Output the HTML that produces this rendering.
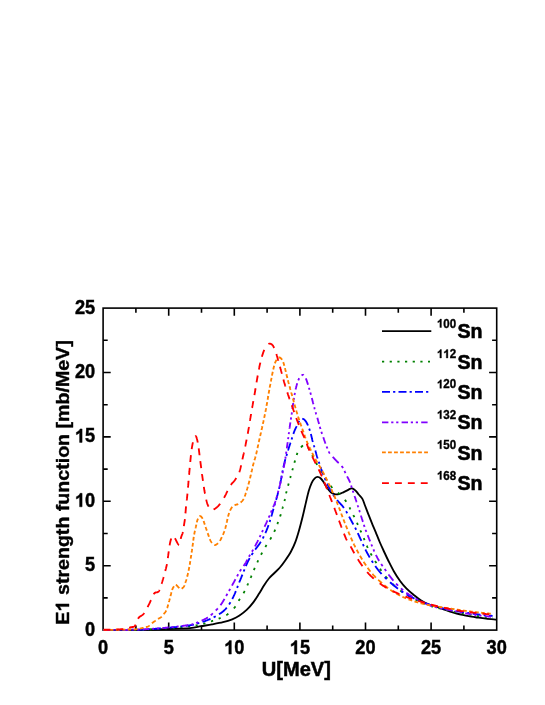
<!DOCTYPE html><html><head><meta charset="utf-8"><style>html,body{margin:0;padding:0;background:#fff}svg{display:block;will-change:transform}text{font-family:"Liberation Sans",sans-serif;font-weight:bold;fill:#000}</style></head><body>
<svg width="545" height="705" viewBox="0 0 545 705">
<rect width="545" height="705" fill="#fff"/>
<g stroke="#000" stroke-width="1.6" fill="none" stroke-linecap="butt">
<rect x="103.10" y="308.10" width="393.60" height="322.00"/>
<path d="M135.90 630.10 v-4.60 M135.90 308.10 v4.60 M168.70 630.10 v-7.60 M168.70 308.10 v7.60 M201.50 630.10 v-4.60 M201.50 308.10 v4.60 M234.30 630.10 v-7.60 M234.30 308.10 v7.60 M267.10 630.10 v-4.60 M267.10 308.10 v4.60 M299.90 630.10 v-7.60 M299.90 308.10 v7.60 M332.70 630.10 v-4.60 M332.70 308.10 v4.60 M365.50 630.10 v-7.60 M365.50 308.10 v7.60 M398.30 630.10 v-4.60 M398.30 308.10 v4.60 M431.10 630.10 v-7.60 M431.10 308.10 v7.60 M463.90 630.10 v-4.60 M463.90 308.10 v4.60 M103.10 597.90 h4.60 M496.70 597.90 h-4.60 M103.10 565.70 h7.60 M496.70 565.70 h-7.60 M103.10 533.50 h4.60 M496.70 533.50 h-4.60 M103.10 501.30 h7.60 M496.70 501.30 h-7.60 M103.10 469.10 h4.60 M496.70 469.10 h-4.60 M103.10 436.90 h7.60 M496.70 436.90 h-7.60 M103.10 404.70 h4.60 M496.70 404.70 h-4.60 M103.10 372.50 h7.60 M496.70 372.50 h-7.60 M103.10 340.30 h4.60 M496.70 340.30 h-4.60"/>
</g>
<g fill="none" stroke-width="1.85" stroke-linejoin="round">
<path d="M103.50 630.00 C109.58 629.97 129.27 629.97 140.00 629.80 C150.73 629.63 159.57 629.28 167.90 629.00 C176.23 628.72 184.48 628.57 190.00 628.10 C195.52 627.63 197.33 626.82 201.00 626.20 C204.67 625.58 208.33 625.07 212.00 624.40 C215.67 623.73 219.63 623.05 223.00 622.20 C226.37 621.35 229.45 620.40 232.20 619.30 C234.95 618.20 237.05 617.20 239.50 615.60 C241.95 614.00 244.60 611.90 246.90 609.70 C249.20 607.50 251.32 605.00 253.30 602.40 C255.28 599.80 256.97 597.00 258.80 594.10 C260.63 591.20 262.62 587.60 264.30 585.00 C265.98 582.40 267.22 580.50 268.90 578.50 C270.58 576.50 272.57 574.83 274.40 573.00 C276.23 571.17 278.07 569.63 279.90 567.50 C281.73 565.37 283.55 562.87 285.40 560.20 C287.25 557.53 289.35 554.50 291.00 551.50 C292.65 548.50 293.97 545.70 295.30 542.20 C296.63 538.70 297.75 534.87 299.00 530.50 C300.25 526.13 301.65 520.65 302.80 516.00 C303.95 511.35 304.90 506.80 305.90 502.60 C306.90 498.40 307.83 494.10 308.80 490.80 C309.77 487.50 310.72 484.88 311.70 482.80 C312.68 480.72 313.72 479.28 314.70 478.30 C315.68 477.32 316.62 476.90 317.60 476.90 C318.58 476.90 319.62 477.45 320.60 478.30 C321.58 479.15 322.40 480.40 323.50 482.00 C324.60 483.60 325.98 486.18 327.20 487.90 C328.42 489.62 329.58 491.27 330.80 492.30 C332.02 493.33 333.15 493.80 334.50 494.10 C335.85 494.40 337.43 494.40 338.90 494.10 C340.37 493.80 341.83 492.97 343.30 492.30 C344.77 491.63 346.48 490.72 347.70 490.10 C348.92 489.48 349.75 488.85 350.60 488.60 C351.45 488.35 351.93 488.23 352.80 488.60 C353.67 488.97 354.82 489.82 355.80 490.80 C356.78 491.78 357.60 493.15 358.70 494.50 C359.80 495.85 361.35 497.07 362.40 498.90 C363.45 500.73 364.00 502.93 365.00 505.50 C366.00 508.07 367.25 511.37 368.40 514.30 C369.55 517.23 370.70 520.17 371.90 523.10 C373.10 526.03 374.30 528.75 375.60 531.90 C376.90 535.05 378.30 538.73 379.70 542.00 C381.10 545.27 382.53 548.33 384.00 551.50 C385.47 554.67 386.87 557.72 388.50 561.00 C390.13 564.28 391.87 567.87 393.80 571.20 C395.73 574.53 397.97 578.08 400.10 581.00 C402.23 583.92 404.30 586.35 406.60 588.70 C408.90 591.05 411.47 593.12 413.90 595.10 C416.33 597.08 418.75 599.07 421.20 600.60 C423.65 602.13 425.87 603.20 428.60 604.30 C431.33 605.40 435.12 606.35 437.60 607.20 C440.08 608.05 441.53 608.72 443.50 609.40 C445.47 610.08 447.20 610.62 449.40 611.30 C451.60 611.98 454.27 612.85 456.70 613.50 C459.13 614.15 461.55 614.67 464.00 615.20 C466.45 615.73 468.95 616.28 471.40 616.70 C473.85 617.12 476.25 617.38 478.70 617.70 C481.15 618.02 483.17 618.28 486.10 618.60 C489.03 618.92 494.60 619.43 496.30 619.60" stroke="#000000"/>
<path d="M103.50 630.00 L103.70 630.00 L103.92 630.00 L104.14 630.00 L104.38 629.99 L104.62 629.99 L104.87 629.99 L105.13 629.99 L105.40 629.99 L105.68 629.99 M111.20 629.97 L111.59 629.97 L111.99 629.97 L112.39 629.97 L112.80 629.97 L113.21 629.97 L113.32 629.97 M118.91 629.95 L119.37 629.95 L119.83 629.94 L120.30 629.94 L120.76 629.94 L120.99 629.94 M126.61 629.90 L127.08 629.90 L127.55 629.90 L128.01 629.89 L128.47 629.89 L128.71 629.89 M134.19 629.82 L134.62 629.81 L135.04 629.81 L135.46 629.80 L135.87 629.79 L136.28 629.78 M141.94 629.64 L142.39 629.63 L142.84 629.61 L143.29 629.60 L143.73 629.58 L143.95 629.57 M149.53 629.34 L149.94 629.32 L150.36 629.30 L150.77 629.28 L151.18 629.26 L151.59 629.23 L151.69 629.23 M157.24 628.91 L157.63 628.89 L158.01 628.87 L158.40 628.84 L158.78 628.82 L159.16 628.79 L159.35 628.78 M164.92 628.41 L165.28 628.38 L165.65 628.36 L166.01 628.33 L166.37 628.31 L166.73 628.28 L167.00 628.26 M172.62 627.85 L173.07 627.81 L173.51 627.78 L173.96 627.74 L174.40 627.71 L174.73 627.68 M180.26 627.20 L180.67 627.16 L181.08 627.12 L181.48 627.08 L181.88 627.04 L182.28 627.01 L182.38 627.00 M187.94 626.43 L188.27 626.39 L188.60 626.36 L188.92 626.32 L189.23 626.29 L189.54 626.25 L189.85 626.22 L190.00 626.20 M195.62 625.47 L195.98 625.42 L196.32 625.36 L196.66 625.30 L197.00 625.24 L197.33 625.18 L197.66 625.12 M203.26 623.83 L203.66 623.72 L204.06 623.61 L204.47 623.49 L204.87 623.37 L205.27 623.26 L205.37 623.23 M210.96 621.45 L211.31 621.33 L211.66 621.21 L212.00 621.10 L212.43 620.96 L212.86 620.81 L213.07 620.74 M218.62 618.71 L218.98 618.56 L219.33 618.41 L219.68 618.27 L220.03 618.12 L220.40 617.96 L220.68 617.83 M226.26 615.21 L226.61 614.99 L226.97 614.75 L227.33 614.50 L227.67 614.25 L227.96 614.03 L228.25 613.80 L228.40 613.68 M233.79 608.46 L234.05 608.15 L234.32 607.84 L234.57 607.53 L234.82 607.23 L235.06 606.92 L235.31 606.59 L235.50 606.34 M238.71 600.82 L238.89 600.47 L239.08 600.12 L239.27 599.78 L239.46 599.44 L239.66 599.11 L239.85 598.78 L239.90 598.70 M243.49 593.15 L243.70 592.81 L243.90 592.46 L244.10 592.11 L244.30 591.76 L244.50 591.40 L244.68 591.05 L244.73 590.97 M247.28 585.43 L247.44 585.06 L247.60 584.69 L247.76 584.33 L247.91 583.97 L248.07 583.62 L248.18 583.36 M250.63 577.81 L250.79 577.45 L250.95 577.09 L251.10 576.72 L251.26 576.36 L251.42 575.99 L251.54 575.71 M253.86 570.12 L254.02 569.74 L254.18 569.36 L254.35 568.98 L254.52 568.59 L254.68 568.22 L254.79 567.96 M257.26 562.43 L257.43 562.06 L257.60 561.70 L257.76 561.34 L257.93 560.98 L258.10 560.63 L258.26 560.29 M261.03 554.74 L261.22 554.39 L261.41 554.03 L261.60 553.67 L261.80 553.30 L261.98 552.96 L262.16 552.63 M265.30 547.08 L265.51 546.72 L265.73 546.35 L265.95 545.99 L266.15 545.65 L266.35 545.32 L266.56 544.99 M270.10 539.47 L270.31 539.13 L270.52 538.79 L270.72 538.46 L270.91 538.13 L271.10 537.80 L271.31 537.42 L271.37 537.33 M274.23 531.76 L274.39 531.40 L274.55 531.04 L274.72 530.68 L274.88 530.31 L275.05 529.94 L275.17 529.67 M277.34 524.07 L277.48 523.68 L277.63 523.30 L277.77 522.92 L277.90 522.56 L278.04 522.19 L278.11 522.01 M280.14 516.42 L280.26 516.04 L280.39 515.66 L280.51 515.28 L280.63 514.90 L280.75 514.51 L280.81 514.31 M282.33 508.76 L282.43 508.37 L282.54 507.98 L282.64 507.59 L282.75 507.20 L282.85 506.81 L282.91 506.61 M284.44 501.09 L284.54 500.70 L284.64 500.32 L284.74 499.93 L284.84 499.56 L284.93 499.18 L284.98 498.99 M286.10 493.41 L286.18 493.02 L286.27 492.62 L286.36 492.22 L286.45 491.81 L286.55 491.41 L286.57 491.32 M288.08 485.74 L288.19 485.34 L288.30 484.95 L288.41 484.56 L288.52 484.17 L288.62 483.79 L288.67 483.60 M290.19 478.02 L290.30 477.64 L290.40 477.25 L290.51 476.86 L290.61 476.48 L290.72 476.09 L290.75 475.99 M292.30 470.36 L292.41 469.97 L292.52 469.57 L292.63 469.18 L292.74 468.79 L292.84 468.40 L292.87 468.30 M294.43 462.74 L294.53 462.36 L294.64 461.98 L294.75 461.60 L294.86 461.22 L294.97 460.85 L295.05 460.58 M296.69 455.04 L296.81 454.68 L296.93 454.34 L297.05 454.00 L297.17 453.68 L297.33 453.26 L297.46 452.94 M300.90 447.38 L301.20 447.07 L301.49 446.78 L301.78 446.51 L302.07 446.25 L302.34 446.01 L302.60 445.80 L303.01 445.49 M308.11 447.36 L308.29 447.65 L308.47 447.96 L308.66 448.29 L308.85 448.64 L309.06 449.02 L309.28 449.42 L309.33 449.53 M312.16 455.05 L312.36 455.44 L312.55 455.83 L312.75 456.22 L312.94 456.60 L313.13 456.99 L313.23 457.17 M316.05 462.76 L316.23 463.11 L316.41 463.45 L316.59 463.80 L316.78 464.15 L316.97 464.51 L317.17 464.87 M320.58 470.44 L320.80 470.79 L321.03 471.13 L321.25 471.48 L321.48 471.83 L321.70 472.18 L321.92 472.52 M325.33 478.04 L325.54 478.38 L325.75 478.72 L325.96 479.07 L326.18 479.41 L326.39 479.75 L326.61 480.09 L326.66 480.17 M330.61 485.71 L330.85 486.03 L331.10 486.34 L331.35 486.66 L331.61 486.97 L331.86 487.28 L332.13 487.58 L332.39 487.89 M337.84 492.69 L338.17 492.94 L338.50 493.19 L338.83 493.43 L339.16 493.68 L339.48 493.94 L339.80 494.19 L339.96 494.32 M344.85 499.70 L345.09 500.03 L345.32 500.36 L345.55 500.69 L345.78 501.02 L346.01 501.36 L346.23 501.69 L346.28 501.77 M349.49 507.36 L349.66 507.73 L349.83 508.09 L350.00 508.46 L350.16 508.82 L350.33 509.18 L350.45 509.46 M353.26 515.06 L353.44 515.40 L353.63 515.75 L353.82 516.10 L354.00 516.44 L354.19 516.79 L354.37 517.14 M356.98 522.74 L357.14 523.12 L357.30 523.50 L357.46 523.88 L357.62 524.26 L357.78 524.64 L357.86 524.83 M360.33 530.37 L360.49 530.72 L360.66 531.06 L360.82 531.41 L360.98 531.76 L361.15 532.11 L361.31 532.47 M363.71 538.07 L363.87 538.45 L364.02 538.83 L364.18 539.22 L364.34 539.60 L364.50 539.98 L364.58 540.18 M366.86 545.66 L367.02 546.03 L367.18 546.40 L367.33 546.78 L367.49 547.15 L367.66 547.52 L367.78 547.80 M370.59 553.38 L370.79 553.74 L370.99 554.09 L371.19 554.44 L371.39 554.80 L371.59 555.15 L371.79 555.50 M375.10 561.06 L375.31 561.40 L375.51 561.73 L375.72 562.06 L375.92 562.39 L376.13 562.72 L376.34 563.05 L376.39 563.14 M379.96 568.70 L380.18 569.04 L380.40 569.39 L380.63 569.73 L380.85 570.07 L381.08 570.41 L381.30 570.76 L381.36 570.84 M385.48 576.36 L385.74 576.67 L386.00 576.98 L386.26 577.29 L386.52 577.59 L386.78 577.90 L387.04 578.20 L387.31 578.50 M392.60 584.01 L392.89 584.29 L393.18 584.56 L393.48 584.84 L393.77 585.12 L394.07 585.39 L394.36 585.66 L394.66 585.93 L394.74 586.00 M400.26 590.55 L400.58 590.79 L400.89 591.02 L401.21 591.25 L401.53 591.48 L401.85 591.71 L402.18 591.94 L402.42 592.11 M407.95 595.62 L408.28 595.81 L408.61 596.00 L408.95 596.19 L409.28 596.38 L409.62 596.57 L409.97 596.76 L410.05 596.81 M415.60 599.65 L415.95 599.82 L416.29 599.98 L416.64 600.14 L417.00 600.31 L417.37 600.48 L417.74 600.65 M423.35 603.06 L423.75 603.23 L424.14 603.39 L424.53 603.55 L424.91 603.71 L425.29 603.86 L425.38 603.90 M430.94 606.15 L431.16 606.23 L431.40 606.30 L431.67 606.38 L431.99 606.47 L432.38 606.58 L432.87 606.70 L433.01 606.74 M438.62 608.16 L439.02 608.25 L439.42 608.35 L439.83 608.45 L440.24 608.55 L440.66 608.65 L440.77 608.67 M446.36 609.98 L446.78 610.08 L447.20 610.17 L447.61 610.27 L448.03 610.36 L448.43 610.45 M454.02 611.66 L454.42 611.74 L454.81 611.82 L455.21 611.90 L455.60 611.98 L455.99 612.06 L456.09 612.08 M461.66 613.17 L462.06 613.25 L462.45 613.32 L462.84 613.39 L463.23 613.47 L463.62 613.54 L463.72 613.56 M469.31 614.60 L469.72 614.68 L470.12 614.75 L470.53 614.82 L470.93 614.90 L471.34 614.97 L471.44 614.99 M477.00 615.94 L477.38 616.01 L477.77 616.07 L478.15 616.13 L478.52 616.18 L478.90 616.24 L479.08 616.27 M484.73 616.97 L485.19 617.01 L485.66 617.06 L486.12 617.11 L486.57 617.15 L486.79 617.17 M492.33 617.67 L492.55 617.69 L492.60 617.70" stroke="#008000"/>
<path d="M103.50 630.00 L103.70 630.00 L103.92 630.00 L104.14 629.99 L104.38 629.99 L104.62 629.99 L104.87 629.99 L105.13 629.99 L105.40 629.98 L105.68 629.98 L105.96 629.98 L106.25 629.98 L106.55 629.98 L106.86 629.98 L107.18 629.97 L107.50 629.97 L107.83 629.97 L108.17 629.97 L108.51 629.97 L108.87 629.97 L109.22 629.97 L109.59 629.96 L109.96 629.96 L110.33 629.96 L110.71 629.96 L111.10 629.96 L111.49 629.96 M114.69 629.94 L115.12 629.94 L115.56 629.94 L115.99 629.94 L116.44 629.93 L116.77 629.93 M120.06 629.91 L120.53 629.91 L120.99 629.91 L121.46 629.90 L121.92 629.90 L122.39 629.90 L122.86 629.89 L123.33 629.89 L123.80 629.88 L124.27 629.88 L124.74 629.88 L125.21 629.87 L125.68 629.87 L126.14 629.86 L126.61 629.86 L127.08 629.85 L127.55 629.85 L127.89 629.84 M131.10 629.80 L131.55 629.79 L132.00 629.79 L132.45 629.78 L132.89 629.77 L133.21 629.77 M136.58 629.70 L136.99 629.69 L137.38 629.68 L137.77 629.67 L138.16 629.66 L138.54 629.65 L138.91 629.63 L139.28 629.62 L139.64 629.61 L140.00 629.60 L140.46 629.58 L140.92 629.57 L141.37 629.55 L141.83 629.53 L142.28 629.52 L142.73 629.50 L143.18 629.48 L143.62 629.46 L144.06 629.44 L144.39 629.43 M147.64 629.27 L148.06 629.25 L148.48 629.22 L148.90 629.20 L149.32 629.18 L149.74 629.15 M153.01 628.95 L153.41 628.93 L153.81 628.90 L154.21 628.87 L154.60 628.85 L155.00 628.82 L155.39 628.79 L155.78 628.77 L156.17 628.74 L156.56 628.71 L156.95 628.68 L157.34 628.65 L157.72 628.63 L158.11 628.60 L158.49 628.57 L158.87 628.54 L159.25 628.51 L159.63 628.48 L160.01 628.45 L160.39 628.42 L160.76 628.39 L160.95 628.38 M164.19 628.11 L164.55 628.08 L164.92 628.05 L165.28 628.02 L165.65 627.99 L166.01 627.96 L166.28 627.94 M169.59 627.65 L170.04 627.61 L170.49 627.57 L170.94 627.53 L171.39 627.49 L171.84 627.44 L172.29 627.40 L172.74 627.36 L173.19 627.31 L173.63 627.27 L174.08 627.23 L174.52 627.18 L174.97 627.14 L175.41 627.09 L175.85 627.05 L176.28 627.00 L176.72 626.96 L177.15 626.91 L177.48 626.88 M180.63 626.53 L181.04 626.48 L181.45 626.43 L181.85 626.39 L182.25 626.34 L182.64 626.29 L182.74 626.28 M186.01 625.87 L186.36 625.82 L186.71 625.78 L187.05 625.73 L187.38 625.68 L187.71 625.64 L188.04 625.59 L188.35 625.55 L188.67 625.50 L188.97 625.46 L189.28 625.41 L189.57 625.37 L189.86 625.32 L190.32 625.25 L190.94 625.15 L191.51 625.05 L192.05 624.95 L192.55 624.85 L193.01 624.75 L193.45 624.65 L193.86 624.56 L193.96 624.53 M197.12 623.58 L197.42 623.48 L197.73 623.37 L198.05 623.26 L198.38 623.15 L198.74 623.04 L199.10 622.93 L199.30 622.87 M202.52 621.88 L202.90 621.76 L203.28 621.64 L203.66 621.52 L204.03 621.39 L204.41 621.27 L204.79 621.14 L205.17 621.00 L205.55 620.87 L205.93 620.73 L206.30 620.59 L206.68 620.45 L207.06 620.30 L207.44 620.15 L207.82 620.00 L208.20 619.84 L208.57 619.69 L208.93 619.53 L209.30 619.37 L209.66 619.21 L210.03 619.05 L210.40 618.88 L210.50 618.84 M213.65 617.33 L214.02 617.14 L214.38 616.95 L214.74 616.76 L215.10 616.57 L215.46 616.38 L215.72 616.23 M219.00 614.26 L219.35 614.04 L219.69 613.82 L220.03 613.59 L220.37 613.37 L220.70 613.14 L221.03 612.91 L221.35 612.68 L221.67 612.44 L221.99 612.20 L222.30 611.96 L222.62 611.72 L222.92 611.47 L223.23 611.22 L223.53 610.97 L223.82 610.71 L224.11 610.45 L224.40 610.18 L224.69 609.91 L224.97 609.63 L225.25 609.35 L225.52 609.06 L225.79 608.77 L226.06 608.47 L226.32 608.18 L226.57 607.88 L226.76 607.65 M229.12 604.42 L229.34 604.08 L229.57 603.73 L229.79 603.38 L230.01 603.03 L230.23 602.67 L230.45 602.32 M232.27 599.02 L232.45 598.66 L232.64 598.29 L232.82 597.92 L233.00 597.55 L233.18 597.18 L233.35 596.80 L233.53 596.43 L233.70 596.06 L233.88 595.68 L234.05 595.31 L234.22 594.94 L234.39 594.57 L234.55 594.20 L234.72 593.84 L234.88 593.47 L235.04 593.11 L235.21 592.73 L235.37 592.35 L235.53 591.98 L235.68 591.60 L235.84 591.23 L235.87 591.13 M237.10 587.94 L237.24 587.56 L237.38 587.18 L237.52 586.81 L237.66 586.43 L237.80 586.06 L237.88 585.87 M239.20 582.51 L239.35 582.14 L239.50 581.77 L239.65 581.40 L239.80 581.02 L239.95 580.65 L240.10 580.28 L240.25 579.91 L240.41 579.54 L240.56 579.17 L240.71 578.80 L240.86 578.43 L241.01 578.06 L241.16 577.69 L241.32 577.32 L241.47 576.95 L241.62 576.58 L241.77 576.20 L241.92 575.83 L242.07 575.46 L242.22 575.09 L242.37 574.71 L242.41 574.62 M243.65 571.49 L243.80 571.10 L243.95 570.72 L244.10 570.34 L244.25 569.96 L244.40 569.58 L244.47 569.39 M245.85 566.04 L246.00 565.70 L246.18 565.30 L246.35 564.91 L246.52 564.52 L246.69 564.14 L246.86 563.77 L247.03 563.40 L247.20 563.04 L247.37 562.68 L247.53 562.32 L247.70 561.97 L247.87 561.62 L248.04 561.27 L248.21 560.92 L248.39 560.58 L248.56 560.23 L248.74 559.88 L248.93 559.54 L249.11 559.19 L249.31 558.83 L249.50 558.48 L249.70 558.13 M251.60 554.94 L251.81 554.61 L252.02 554.28 L252.24 553.94 L252.46 553.60 L252.68 553.26 L252.91 552.92 L252.96 552.84 M255.20 549.59 L255.44 549.27 L255.68 548.95 L255.92 548.63 L256.17 548.30 L256.41 547.98 L256.66 547.65 L256.91 547.32 L257.16 546.99 L257.41 546.66 L257.66 546.34 L257.91 546.01 L258.16 545.68 L258.40 545.35 L258.64 545.02 L258.88 544.69 L259.11 544.36 L259.34 544.04 L259.56 543.71 L259.78 543.38 L260.00 543.06 L260.21 542.72 L260.43 542.37 L260.65 542.02 L260.87 541.67 M262.70 538.47 L262.88 538.12 L263.06 537.77 L263.25 537.42 L263.43 537.06 L263.61 536.71 L263.79 536.35 M265.38 533.01 L265.54 532.64 L265.71 532.28 L265.87 531.91 L266.03 531.54 L266.19 531.16 L266.35 530.79 L266.50 530.42 L266.66 530.04 L266.81 529.67 L266.96 529.29 L267.11 528.91 L267.26 528.54 L267.41 528.16 L267.56 527.79 L267.70 527.41 L267.85 527.03 L267.99 526.66 L268.13 526.29 L268.27 525.91 L268.41 525.53 L268.55 525.15 M269.62 521.97 L269.75 521.60 L269.86 521.22 L269.98 520.84 L270.10 520.46 L270.22 520.07 L270.28 519.88 M271.29 516.56 L271.40 516.20 L271.51 515.83 L271.62 515.45 L271.73 515.08 L271.84 514.70 L271.95 514.32 L272.05 513.93 L272.16 513.55 L272.27 513.16 L272.38 512.77 L272.49 512.38 L272.60 511.99 L272.71 511.60 L272.82 511.21 L272.93 510.82 L273.04 510.42 L273.14 510.03 L273.25 509.64 L273.36 509.24 L273.47 508.85 L273.53 508.66 M274.44 505.48 L274.56 505.10 L274.67 504.72 L274.78 504.35 L274.89 503.97 L275.01 503.59 L275.09 503.31 M276.05 500.08 L276.16 499.69 L276.28 499.30 L276.39 498.91 L276.50 498.52 L276.61 498.12 L276.72 497.72 L276.83 497.31 L276.94 496.91 L277.05 496.52 L277.15 496.15 L277.25 495.78 L277.35 495.40 L277.45 495.03 L277.54 494.65 L277.64 494.27 L277.74 493.89 L277.84 493.51 L277.94 493.13 L278.04 492.74 L278.14 492.35 L278.19 492.16 M279.00 488.91 L279.09 488.51 L279.19 488.11 L279.28 487.71 L279.38 487.31 L279.47 486.91 L279.49 486.81 M280.21 483.55 L280.29 483.16 L280.37 482.76 L280.44 482.36 L280.52 481.97 L280.60 481.57 L280.67 481.16 L280.75 480.76 L280.82 480.36 L280.90 479.96 L280.97 479.55 L281.05 479.15 L281.12 478.74 L281.20 478.34 L281.27 477.94 L281.34 477.54 L281.42 477.14 L281.49 476.74 L281.56 476.34 L281.63 475.94 L281.69 475.65 M282.30 472.50 L282.39 472.08 L282.48 471.65 L282.56 471.23 L282.65 470.81 L282.74 470.39 M283.45 467.08 L283.53 466.68 L283.62 466.28 L283.71 465.89 L283.80 465.50 L283.89 465.11 L283.97 464.73 L284.06 464.35 L284.15 463.98 L284.23 463.62 L284.32 463.25 L284.40 462.90 L284.49 462.55 L284.57 462.20 L284.66 461.87 L284.76 461.47 L284.88 461.01 L285.00 460.57 L285.11 460.15 L285.23 459.73 L285.34 459.33 L285.40 459.14 M286.39 455.95 L286.50 455.59 L286.62 455.23 L286.73 454.86 L286.84 454.49 L286.96 454.11 L287.04 453.82 M288.01 450.55 L288.12 450.17 L288.24 449.80 L288.35 449.41 L288.47 449.03 L288.59 448.63 L288.71 448.24 L288.84 447.83 L288.97 447.42 L289.10 447.00 L289.21 446.65 L289.33 446.28 L289.45 445.91 L289.57 445.53 L289.70 445.15 L289.82 444.76 L289.95 444.36 L290.08 443.96 L290.22 443.56 L290.35 443.16 L290.48 442.76 L290.52 442.66 M291.59 439.43 L291.71 439.07 L291.83 438.71 L291.94 438.37 L292.07 437.98 L292.21 437.55 L292.28 437.34 M293.31 434.08 L293.43 433.72 L293.56 433.36 L293.68 432.99 L293.81 432.63 L293.95 432.26 L294.09 431.88 L294.24 431.51 L294.39 431.14 L294.54 430.76 L294.70 430.38 L294.87 429.99 L295.04 429.61 L295.21 429.22 L295.39 428.84 L295.57 428.45 L295.74 428.07 L295.92 427.69 L296.10 427.31 L296.27 426.95 L296.45 426.58 L296.61 426.23 L296.65 426.14 M298.16 422.92 L298.33 422.55 L298.50 422.19 L298.67 421.85 L298.84 421.52 L299.01 421.22 L299.18 420.93 L299.22 420.86 M302.23 418.77 L302.61 418.82 L303.01 418.91 L303.41 419.06 L303.81 419.28 L304.21 419.55 L304.56 419.85 L304.78 420.07 L305.00 420.31 L305.22 420.57 L305.44 420.85 L305.67 421.15 L305.89 421.47 L306.11 421.81 L306.33 422.18 L306.56 422.56 L306.78 422.97 L307.00 423.39 L307.23 423.85 L307.43 424.27 L307.57 424.57 L307.71 424.89 L307.86 425.22 L307.96 425.47 M309.20 428.67 L309.34 429.07 L309.48 429.48 L309.62 429.88 L309.76 430.29 L309.89 430.70 M310.89 434.04 L310.99 434.44 L311.09 434.84 L311.19 435.24 L311.29 435.64 L311.39 436.04 L311.48 436.45 L311.57 436.85 L311.67 437.25 L311.76 437.65 L311.85 438.05 L311.94 438.45 L312.03 438.84 L312.13 439.23 L312.22 439.62 L312.31 440.00 L312.41 440.37 L312.50 440.74 L312.60 441.10 L312.72 441.52 L312.83 441.93 M313.82 445.16 L313.93 445.53 L314.05 445.90 L314.16 446.27 L314.28 446.65 L314.39 447.03 L314.45 447.22 M315.38 450.53 L315.49 450.93 L315.60 451.33 L315.70 451.74 L315.81 452.14 L315.91 452.54 L316.02 452.95 L316.13 453.35 L316.23 453.75 L316.34 454.15 L316.44 454.54 L316.55 454.92 L316.66 455.31 L316.76 455.68 L316.87 456.05 L316.97 456.41 L317.10 456.82 L317.22 457.22 L317.34 457.62 L317.47 458.01 L317.59 458.38 L317.62 458.48 M318.71 461.69 L318.85 462.08 L318.99 462.48 L319.13 462.89 L319.26 463.27 L319.38 463.62 L319.43 463.79 M320.51 467.03 L320.64 467.41 L320.77 467.79 L320.90 468.18 L321.04 468.57 L321.18 468.98 L321.33 469.38 L321.48 469.80 L321.63 470.22 L321.79 470.65 L321.96 471.09 L322.09 471.45 L322.22 471.78 L322.35 472.12 L322.48 472.47 L322.62 472.82 L322.76 473.18 L322.90 473.54 L323.04 473.91 L323.18 474.28 L323.33 474.65 L323.44 474.93 M324.72 478.11 L324.88 478.50 L325.04 478.89 L325.21 479.27 L325.37 479.66 L325.53 480.04 L325.62 480.23 M327.12 483.57 L327.29 483.94 L327.47 484.31 L327.64 484.68 L327.82 485.06 L327.99 485.43 L328.17 485.80 L328.35 486.17 L328.53 486.54 L328.71 486.91 L328.89 487.27 L329.07 487.64 L329.25 488.00 L329.44 488.36 L329.62 488.72 L329.81 489.08 L329.99 489.43 L330.18 489.78 L330.37 490.13 L330.56 490.47 L330.74 490.82 L330.93 491.15 L331.12 491.49 M333.10 494.64 L333.33 494.99 L333.57 495.33 L333.81 495.67 L334.05 496.01 L334.29 496.34 L334.53 496.67 L334.59 496.75 M337.12 500.05 L337.34 500.33 L337.61 500.67 L337.90 501.01 L338.18 501.34 L338.46 501.66 L338.74 501.97 L339.02 502.28 L339.30 502.57 L339.58 502.86 L339.85 503.15 L340.12 503.43 L340.39 503.71 L340.66 503.99 L340.93 504.27 L341.19 504.55 L341.45 504.84 L341.71 505.13 L341.97 505.42 L342.22 505.73 L342.47 506.04 L342.72 506.36 L342.96 506.67 L343.20 506.99 L343.43 507.30 L343.66 507.62 L343.88 507.94 M346.01 511.18 L346.23 511.53 L346.45 511.89 L346.67 512.25 L346.89 512.61 L347.10 512.96 L347.29 513.29 M349.10 516.58 L349.30 516.94 L349.49 517.30 L349.68 517.66 L349.87 518.02 L350.06 518.39 L350.25 518.75 L350.44 519.11 L350.63 519.47 L350.83 519.83 L351.02 520.19 L351.21 520.55 L351.40 520.90 L351.59 521.25 L351.78 521.60 L351.97 521.94 L352.16 522.28 L352.35 522.63 L352.54 522.97 L352.73 523.30 L352.92 523.64 L353.11 523.98 L353.30 524.32 L353.39 524.49 M355.11 527.66 L355.31 528.04 L355.50 528.42 L355.70 528.80 L355.88 529.16 L356.05 529.50 L356.17 529.75 M357.73 533.03 L357.90 533.39 L358.07 533.75 L358.24 534.11 L358.41 534.48 L358.58 534.85 L358.75 535.22 L358.92 535.60 L359.09 535.98 L359.27 536.36 L359.45 536.74 L359.63 537.13 L359.81 537.51 L359.99 537.91 L360.17 538.30 L360.36 538.70 L360.54 539.08 L360.70 539.42 L360.85 539.76 L361.01 540.10 L361.17 540.45 L361.34 540.80 L361.42 540.98 M362.88 544.19 L363.05 544.56 L363.22 544.94 L363.40 545.32 L363.57 545.69 L363.74 546.07 L363.83 546.26 M365.39 549.50 L365.57 549.86 L365.75 550.22 L365.93 550.57 L366.11 550.93 L366.30 551.28 L366.49 551.64 L366.68 552.01 L366.87 552.37 L367.06 552.72 L367.25 553.08 L367.45 553.44 L367.64 553.79 L367.84 554.15 L368.03 554.50 L368.23 554.85 L368.42 555.20 L368.62 555.55 L368.82 555.90 L369.02 556.25 L369.22 556.60 L369.42 556.94 L369.62 557.29 L369.72 557.46 M371.69 560.68 L371.90 561.02 L372.11 561.35 L372.33 561.68 L372.55 562.02 L372.77 562.35 L372.99 562.69 L373.04 562.78 M375.27 566.04 L375.51 566.37 L375.74 566.70 L375.98 567.03 L376.22 567.36 L376.46 567.69 L376.69 568.01 L376.93 568.33 L377.18 568.65 L377.42 568.97 L377.66 569.29 L377.90 569.61 L378.15 569.92 L378.39 570.23 L378.64 570.54 L378.88 570.85 L379.13 571.15 L379.38 571.46 L379.63 571.76 L379.88 572.05 L380.13 572.36 L380.41 572.67 L380.68 572.99 L380.96 573.30 L381.24 573.61 L381.52 573.91 L381.59 573.99 M384.68 577.15 L384.97 577.43 L385.26 577.71 L385.54 577.99 L385.83 578.26 L386.12 578.53 L386.40 578.80 L386.68 579.07 L386.75 579.14 M390.05 582.22 L390.34 582.49 L390.64 582.75 L390.93 583.01 L391.22 583.27 L391.52 583.53 L391.81 583.79 L392.10 584.04 L392.39 584.29 L392.69 584.54 L392.99 584.80 L393.29 585.05 L393.59 585.30 L393.90 585.55 L394.21 585.80 L394.53 586.06 L394.85 586.31 L395.18 586.57 L395.52 586.83 L395.82 587.07 L396.13 587.31 L396.43 587.54 L396.74 587.78 L397.06 588.01 L397.37 588.25 L397.69 588.49 L397.93 588.67 M401.17 590.98 L401.51 591.21 L401.85 591.44 L402.19 591.67 L402.53 591.90 L402.86 592.12 L403.20 592.34 L403.28 592.40 M406.52 594.40 L406.87 594.61 L407.21 594.80 L407.55 595.00 L407.89 595.19 L408.23 595.39 L408.58 595.58 L408.92 595.77 L409.27 595.95 L409.61 596.14 L409.96 596.32 L410.31 596.51 L410.67 596.69 L411.02 596.88 L411.38 597.06 L411.74 597.24 L412.11 597.42 L412.48 597.61 L412.85 597.79 L413.23 597.98 L413.61 598.16 L413.99 598.34 L414.33 598.50 L414.50 598.59 M417.63 600.00 L418.01 600.17 L418.39 600.34 L418.77 600.50 L419.16 600.67 L419.54 600.83 L419.74 600.91 M423.04 602.27 L423.41 602.42 L423.77 602.56 L424.12 602.70 L424.47 602.83 L424.81 602.97 L425.21 603.12 L425.60 603.27 L425.99 603.42 L426.35 603.56 L426.71 603.70 L427.06 603.83 L427.40 603.96 L427.74 604.09 L428.07 604.21 L428.40 604.33 L428.74 604.45 L429.07 604.57 L429.40 604.69 L429.75 604.80 L430.09 604.92 L430.45 605.03 L430.82 605.15 L431.01 605.21 M434.18 606.12 L434.49 606.21 L434.81 606.29 L435.14 606.38 L435.48 606.47 L435.83 606.55 L436.18 606.64 L436.27 606.67 M439.60 607.48 L440.00 607.58 L440.41 607.68 L440.81 607.77 L441.22 607.87 L441.64 607.96 L442.05 608.06 L442.47 608.15 L442.88 608.25 L443.30 608.34 L443.72 608.44 L444.14 608.53 L444.55 608.63 L444.97 608.72 L445.39 608.81 L445.80 608.90 L446.22 608.99 L446.63 609.08 L447.04 609.17 L447.44 609.26 M450.71 609.95 L451.11 610.03 L451.52 610.11 L451.92 610.19 L452.32 610.27 L452.72 610.35 M456.08 610.98 L456.48 611.06 L456.87 611.13 L457.26 611.20 L457.65 611.27 L458.05 611.34 L458.44 611.41 L458.83 611.47 L459.22 611.54 L459.61 611.61 L460.00 611.68 L460.39 611.74 L460.78 611.81 L461.17 611.87 L461.56 611.94 L461.96 612.00 L462.35 612.07 L462.74 612.13 L463.13 612.20 L463.52 612.26 L463.92 612.33 L464.01 612.34 M467.21 612.85 L467.61 612.91 L468.02 612.97 L468.42 613.03 L468.83 613.09 L469.24 613.15 M472.60 613.63 L473.00 613.69 L473.41 613.74 L473.81 613.80 L474.21 613.85 L474.61 613.91 L475.01 613.96 L475.41 614.01 L475.80 614.06 L476.20 614.12 L476.59 614.17 L476.98 614.22 L477.37 614.27 L477.75 614.32 L478.13 614.37 L478.51 614.41 L478.89 614.46 L479.26 614.51 L479.63 614.55 L480.00 614.60 L480.44 614.65 M483.67 615.02 L484.14 615.07 L484.61 615.12 L485.08 615.16 L485.54 615.21 L485.77 615.24 M489.03 615.55 L489.42 615.59 L489.80 615.63 L490.17 615.66 L490.52 615.70 L490.86 615.73 L491.18 615.76 L491.48 615.79 L491.77 615.82 L492.03 615.84 L492.27 615.87 L492.50 615.89 L492.60 615.90" stroke="#0000ff"/>
<path d="M103.50 630.00 L103.70 630.00 L103.92 629.99 L104.14 629.99 L104.38 629.99 L104.62 629.99 L104.87 629.98 L105.13 629.98 L105.40 629.98 L105.68 629.98 L105.96 629.97 L106.25 629.97 L106.55 629.97 L106.86 629.97 L107.18 629.97 L107.50 629.96 L107.83 629.96 L108.17 629.96 L108.51 629.96 L108.87 629.95 L109.22 629.95 L109.59 629.95 L109.86 629.95 M112.80 629.93 L113.21 629.93 L113.63 629.92 L114.05 629.92 L114.48 629.92 L114.80 629.92 M117.78 629.89 L118.23 629.89 L118.69 629.89 L119.14 629.88 L119.60 629.88 L119.83 629.88 M123.21 629.84 L123.68 629.84 L124.15 629.83 L124.62 629.83 L125.09 629.82 L125.56 629.82 L126.03 629.81 L126.50 629.80 L126.96 629.80 L127.43 629.79 L127.89 629.79 L128.36 629.78 L128.82 629.77 L129.28 629.76 L129.40 629.76 M132.33 629.71 L132.78 629.70 L133.21 629.69 L133.65 629.68 L134.08 629.67 L134.40 629.67 M137.38 629.59 L137.77 629.58 L138.16 629.56 L138.54 629.55 L138.91 629.54 L139.28 629.53 L139.46 629.52 M142.73 629.38 L143.18 629.36 L143.62 629.34 L144.06 629.32 L144.50 629.30 L144.94 629.28 L145.38 629.25 L145.81 629.23 L146.24 629.21 L146.68 629.18 L147.10 629.16 L147.53 629.13 L147.95 629.11 L148.38 629.08 L148.80 629.06 L149.01 629.04 M152.00 628.85 L152.40 628.82 L152.81 628.79 L153.21 628.76 L153.61 628.73 L154.01 628.70 M156.95 628.47 L157.34 628.44 L157.72 628.41 L158.11 628.38 L158.49 628.35 L158.87 628.31 L159.06 628.30 M162.35 628.01 L162.72 627.98 L163.09 627.95 L163.46 627.91 L163.82 627.88 L164.19 627.85 L164.55 627.81 L164.92 627.78 L165.28 627.74 L165.65 627.71 L166.01 627.68 L166.37 627.64 L166.73 627.61 L167.09 627.58 L167.45 627.54 L167.81 627.51 L168.24 627.47 L168.69 627.43 M171.51 627.15 L171.96 627.11 L172.40 627.06 L172.85 627.02 L173.30 626.97 L173.63 626.94 M176.50 626.63 L176.94 626.58 L177.37 626.54 L177.80 626.49 L178.23 626.44 L178.65 626.39 M181.95 626.00 L182.35 625.94 L182.74 625.89 L183.13 625.84 L183.52 625.79 L183.90 625.74 L184.28 625.69 L184.65 625.64 L185.02 625.59 L185.38 625.54 L185.74 625.49 L186.10 625.44 L186.45 625.38 L186.79 625.33 L187.13 625.28 L187.46 625.23 L187.79 625.18 L188.12 625.13 L188.28 625.10 M191.21 624.56 L191.75 624.45 L192.26 624.33 L192.74 624.21 L193.18 624.10 L193.29 624.07 M196.13 623.07 L196.42 622.95 L196.72 622.82 L197.01 622.68 L197.30 622.55 L197.60 622.41 L197.91 622.27 L198.23 622.12 M201.59 620.67 L201.96 620.50 L202.33 620.33 L202.71 620.16 L203.08 619.99 L203.45 619.81 L203.82 619.64 L204.18 619.45 L204.55 619.27 L204.91 619.08 L205.28 618.89 L205.64 618.70 L205.99 618.51 L206.35 618.31 L206.69 618.10 L207.04 617.90 L207.38 617.69 L207.72 617.48 L207.89 617.37 M210.75 615.25 L211.07 614.98 L211.38 614.71 L211.69 614.44 L212.00 614.17 L212.30 613.89 L212.60 613.62 L212.90 613.34 M215.78 610.52 L216.08 610.22 L216.37 609.92 L216.66 609.63 L216.94 609.34 L217.21 609.06 L217.48 608.77 L217.74 608.49 L217.80 608.42 M220.49 605.18 L220.75 604.83 L221.00 604.48 L221.25 604.13 L221.46 603.83 L221.67 603.52 L221.87 603.21 L222.08 602.89 L222.29 602.56 L222.50 602.22 L222.71 601.88 L222.93 601.54 L223.14 601.19 L223.35 600.83 L223.56 600.48 L223.77 600.12 L223.98 599.76 L224.19 599.40 L224.40 599.03 L224.50 598.85 M226.17 595.92 L226.37 595.58 L226.56 595.25 L226.75 594.91 L226.97 594.54 L227.18 594.18 L227.38 593.82 M229.01 590.93 L229.20 590.59 L229.39 590.24 L229.58 589.90 L229.77 589.56 L229.96 589.22 L230.15 588.88 M231.99 585.57 L232.18 585.22 L232.38 584.86 L232.57 584.51 L232.77 584.15 L232.96 583.80 L233.16 583.45 L233.36 583.09 L233.55 582.74 L233.75 582.38 L233.94 582.03 L234.14 581.68 L234.33 581.32 L234.53 580.97 L234.73 580.61 L234.92 580.26 L235.12 579.91 L235.31 579.56 L235.51 579.20 M237.08 576.36 L237.27 575.99 L237.47 575.63 L237.67 575.27 L237.86 574.91 L238.06 574.55 L238.21 574.28 M239.87 571.34 L240.06 571.01 L240.26 570.69 L240.45 570.38 L240.68 570.02 L240.91 569.66 L241.15 569.30 L241.21 569.22 M243.58 565.97 L243.81 565.65 L244.03 565.34 L244.25 565.02 L244.47 564.71 L244.69 564.39 L244.90 564.06 L245.11 563.72 L245.32 563.37 L245.53 563.03 L245.72 562.69 L245.91 562.35 L246.09 562.01 L246.28 561.68 L246.45 561.34 L246.63 561.00 L246.81 560.66 L246.99 560.32 L247.17 559.97 L247.35 559.61 M248.95 556.72 L249.13 556.41 L249.33 556.08 L249.52 555.76 L249.72 555.43 L249.92 555.09 L250.12 554.75 L250.17 554.67 M251.91 551.76 L252.13 551.40 L252.34 551.03 L252.55 550.66 L252.77 550.30 L252.98 549.93 L253.14 549.65 M254.94 546.37 L255.13 546.02 L255.31 545.67 L255.50 545.32 L255.69 544.97 L255.87 544.62 L256.06 544.26 L256.25 543.91 L256.44 543.55 L256.62 543.19 L256.81 542.83 L257.00 542.46 L257.19 542.10 L257.37 541.73 L257.56 541.36 L257.75 540.99 L257.94 540.62 L258.13 540.24 L258.22 540.06 M259.64 537.18 L259.81 536.81 L259.99 536.45 L260.16 536.08 L260.34 535.71 L260.52 535.34 L260.65 535.06 M262.01 532.16 L262.18 531.79 L262.35 531.42 L262.52 531.05 L262.69 530.69 L262.86 530.32 L262.99 530.05 M264.51 526.77 L264.69 526.39 L264.86 526.02 L265.03 525.66 L265.20 525.29 L265.37 524.93 L265.53 524.57 L265.70 524.21 L265.87 523.86 L266.03 523.50 L266.19 523.15 L266.36 522.79 L266.52 522.43 L266.68 522.08 L266.84 521.72 L267.01 521.36 L267.17 521.00 L267.33 520.64 L267.41 520.46 M268.72 517.52 L268.88 517.15 L269.05 516.77 L269.21 516.39 L269.38 516.01 L269.54 515.62 L269.63 515.43 M270.86 512.55 L271.02 512.17 L271.18 511.79 L271.34 511.42 L271.49 511.05 L271.64 510.69 L271.76 510.42 M273.13 507.14 L273.29 506.76 L273.45 506.39 L273.60 506.03 L273.75 505.68 L273.90 505.34 L274.04 505.00 L274.18 504.67 L274.32 504.33 L274.45 503.99 L274.59 503.64 L274.72 503.29 L274.86 502.93 L275.00 502.55 L275.14 502.16 L275.28 501.75 L275.43 501.32 L275.55 500.93 L275.58 500.85 M276.45 498.00 L276.56 497.60 L276.67 497.20 L276.78 496.80 L276.90 496.40 L277.01 495.99 L277.04 495.89 M277.82 492.97 L277.93 492.58 L278.03 492.19 L278.13 491.81 L278.23 491.44 L278.33 491.07 L278.40 490.80 M279.26 487.53 L279.35 487.15 L279.45 486.77 L279.54 486.40 L279.64 486.03 L279.73 485.65 L279.82 485.27 L279.92 484.89 L280.01 484.51 L280.10 484.12 L280.19 483.73 L280.29 483.34 L280.38 482.93 L280.48 482.52 L280.58 482.11 L280.66 481.73 L280.75 481.36 L280.77 481.27 M281.42 478.31 L281.50 477.92 L281.58 477.53 L281.67 477.14 L281.75 476.74 L281.84 476.34 L281.86 476.24 M282.46 473.32 L282.55 472.92 L282.63 472.51 L282.72 472.11 L282.80 471.70 L282.88 471.32 L282.90 471.23 M283.61 467.94 L283.68 467.58 L283.76 467.23 L283.84 466.87 L283.91 466.50 L283.99 466.13 L284.07 465.76 L284.15 465.38 L284.22 464.98 L284.30 464.58 L284.38 464.17 L284.46 463.75 L284.54 463.32 L284.62 462.88 L284.71 462.42 L284.79 461.95 L284.83 461.71 M285.31 458.74 L285.37 458.38 L285.42 458.01 L285.48 457.64 L285.54 457.26 L285.60 456.87 L285.62 456.68 M286.05 453.76 L286.11 453.34 L286.17 452.92 L286.23 452.50 L286.29 452.08 L286.34 451.66 M286.80 448.37 L286.86 447.95 L286.92 447.52 L286.98 447.11 L287.03 446.69 L287.09 446.27 L287.15 445.86 L287.20 445.45 L287.26 445.05 L287.32 444.64 L287.37 444.25 L287.43 443.85 L287.48 443.46 L287.53 443.08 L287.59 442.69 L287.64 442.28 L287.67 442.08 M288.07 439.19 L288.12 438.79 L288.18 438.38 L288.23 437.98 L288.28 437.58 L288.34 437.18 L288.35 437.08 M288.75 434.12 L288.80 433.73 L288.85 433.33 L288.90 432.94 L288.95 432.55 L289.01 432.16 L289.02 432.06 M289.47 428.75 L289.52 428.36 L289.58 427.97 L289.63 427.58 L289.69 427.19 L289.74 426.79 L289.80 426.40 L289.86 426.00 L289.92 425.60 L289.97 425.19 L290.03 424.79 L290.09 424.39 L290.15 423.98 L290.21 423.58 L290.27 423.18 L290.33 422.77 L290.38 422.47 M290.82 419.54 L290.88 419.14 L290.94 418.74 L291.01 418.34 L291.07 417.94 L291.13 417.54 L291.14 417.44 M291.59 414.56 L291.65 414.17 L291.71 413.77 L291.77 413.38 L291.82 412.99 L291.88 412.61 L291.91 412.41 M292.40 409.14 L292.46 408.72 L292.52 408.31 L292.58 407.89 L292.63 407.47 L292.69 407.05 L292.75 406.64 L292.81 406.22 L292.86 405.81 L292.92 405.40 L292.98 404.99 L293.03 404.58 L293.09 404.17 L293.15 403.76 L293.20 403.35 L293.26 402.95 L293.27 402.85 M293.68 399.99 L293.74 399.60 L293.79 399.22 L293.85 398.84 L293.91 398.46 L293.97 398.09 L294.01 397.81 M294.50 394.98 L294.58 394.54 L294.66 394.10 L294.75 393.67 L294.83 393.24 L294.91 392.81 M295.59 389.54 L295.67 389.15 L295.76 388.77 L295.85 388.39 L295.93 388.02 L296.02 387.65 L296.11 387.29 L296.19 386.93 L296.28 386.58 L296.37 386.24 L296.46 385.90 L296.55 385.57 L296.63 385.24 L296.73 384.88 L296.87 384.39 L297.01 383.92 L297.15 383.46 L297.22 383.24 M298.27 380.33 L298.42 379.98 L298.56 379.65 L298.70 379.32 L298.85 379.02 L298.99 378.72 L299.13 378.44 L299.23 378.23 M301.58 375.59 L301.92 375.33 L302.32 375.03 L302.69 374.83 L303.07 374.80 L303.50 375.00 L303.70 375.17 M305.85 378.48 L306.00 378.83 L306.14 379.14 L306.27 379.46 L306.40 379.79 L306.52 380.13 L306.65 380.48 L306.78 380.84 L306.90 381.21 L307.03 381.59 L307.16 381.98 L307.28 382.39 L307.41 382.80 L307.54 383.22 L307.68 383.65 L307.82 384.09 L307.96 384.54 L308.03 384.77 M308.93 387.70 L309.04 388.09 L309.16 388.48 L309.28 388.87 L309.39 389.27 L309.51 389.68 L309.54 389.78 M310.36 392.62 L310.47 393.02 L310.58 393.42 L310.69 393.81 L310.80 394.20 L310.91 394.59 L310.96 394.78 M311.82 398.03 L311.92 398.43 L312.02 398.82 L312.12 399.21 L312.22 399.60 L312.32 399.99 L312.42 400.38 L312.52 400.77 L312.61 401.15 L312.71 401.54 L312.81 401.91 L312.91 402.29 L313.01 402.66 L313.10 403.03 L313.20 403.40 L313.31 403.81 L313.42 404.23 L313.45 404.33 M314.22 407.21 L314.32 407.60 L314.42 407.98 L314.53 408.37 L314.63 408.75 L314.74 409.13 L314.79 409.32 M315.63 412.28 L315.74 412.66 L315.85 413.03 L315.96 413.39 L316.07 413.76 L316.18 414.12 L316.27 414.39 M317.29 417.70 L317.41 418.12 L317.54 418.54 L317.67 418.99 L317.77 419.35 L317.87 419.70 L317.97 420.05 L318.07 420.42 L318.18 420.79 L318.28 421.16 L318.39 421.54 L318.49 421.93 L318.60 422.32 L318.71 422.72 L318.82 423.12 L318.93 423.52 L319.04 423.92 M319.85 426.84 L319.96 427.24 L320.07 427.63 L320.18 428.01 L320.29 428.39 L320.41 428.76 L320.46 428.95 M321.38 431.82 L321.51 432.21 L321.64 432.60 L321.77 432.99 L321.90 433.37 L322.03 433.75 L322.10 433.94 M323.28 437.29 L323.41 437.65 L323.54 438.02 L323.67 438.40 L323.81 438.79 L323.95 439.19 L324.08 439.58 L324.22 439.97 L324.36 440.36 L324.49 440.75 L324.63 441.14 L324.77 441.52 L324.90 441.91 L325.04 442.29 L325.18 442.67 L325.31 443.05 L325.45 443.42 L325.51 443.60 M326.62 446.50 L326.78 446.91 L326.94 447.31 L327.10 447.72 L327.26 448.12 L327.42 448.51 M328.71 451.47 L328.87 451.80 L329.03 452.12 L329.20 452.43 L329.36 452.73 L329.59 453.12 L329.83 453.50 L329.89 453.59 M332.70 456.84 L332.94 457.11 L333.19 457.38 L333.43 457.65 L333.68 457.92 L333.94 458.20 L334.20 458.48 L334.47 458.76 L334.75 459.06 L335.04 459.36 L335.34 459.68 L335.65 460.00 L335.97 460.35 L336.31 460.71 L336.58 460.98 L336.82 461.24 L337.08 461.49 L337.35 461.76 L337.62 462.03 L337.91 462.30 L338.20 462.58 L338.50 462.87 L338.73 463.08 M341.55 465.97 L341.81 466.28 L342.07 466.60 L342.31 466.91 L342.54 467.22 L342.78 467.56 L343.00 467.90 L343.11 468.07 M344.56 470.95 L344.71 471.32 L344.87 471.69 L345.02 472.05 L345.18 472.42 L345.33 472.79 L345.45 473.07 M347.08 476.39 L347.27 476.74 L347.46 477.09 L347.64 477.43 L347.83 477.78 L348.02 478.13 L348.21 478.48 L348.40 478.83 L348.58 479.19 L348.77 479.55 L348.95 479.91 L349.13 480.28 L349.31 480.65 L349.48 481.03 L349.65 481.41 L349.82 481.80 L349.97 482.18 L350.11 482.53 L350.18 482.71 M351.15 485.53 L351.27 485.92 L351.39 486.31 L351.51 486.70 L351.64 487.09 L351.76 487.48 L351.82 487.68 M352.74 490.61 L352.86 490.99 L352.99 491.37 L353.12 491.76 L353.25 492.14 L353.38 492.52 L353.45 492.71 M354.56 495.97 L354.69 496.35 L354.83 496.73 L354.96 497.11 L355.09 497.50 L355.22 497.88 L355.35 498.26 L355.48 498.64 L355.61 499.03 L355.74 499.41 L355.86 499.79 L355.99 500.17 L356.12 500.55 L356.25 500.93 L356.37 501.31 L356.50 501.69 L356.62 502.06 L356.69 502.25 M357.66 505.18 L357.78 505.57 L357.91 505.95 L358.03 506.34 L358.16 506.72 L358.29 507.11 L358.35 507.31 M359.25 510.15 L359.37 510.52 L359.49 510.90 L359.60 511.27 L359.72 511.65 L359.83 512.02 L359.92 512.30 M360.94 515.58 L361.06 515.98 L361.19 516.38 L361.31 516.78 L361.44 517.18 L361.57 517.59 L361.70 518.00 L361.81 518.36 L361.93 518.72 L362.05 519.09 L362.16 519.45 L362.28 519.82 L362.40 520.20 L362.51 520.57 L362.63 520.95 L362.75 521.32 L362.87 521.70 L362.93 521.89 M363.86 524.79 L363.99 525.18 L364.12 525.57 L364.25 525.96 L364.38 526.35 L364.51 526.75 L364.55 526.84 M365.57 529.73 L365.70 530.10 L365.84 530.47 L365.98 530.84 L366.12 531.21 L366.26 531.58 L366.36 531.86 M367.64 535.14 L367.79 535.52 L367.94 535.89 L368.09 536.27 L368.24 536.65 L368.40 537.02 L368.55 537.40 L368.70 537.78 L368.85 538.15 L369.00 538.53 L369.16 538.91 L369.31 539.28 L369.46 539.66 L369.61 540.03 L369.76 540.41 L369.91 540.78 L370.06 541.15 L370.18 541.44 M371.35 544.32 L371.51 544.71 L371.66 545.10 L371.82 545.49 L371.98 545.87 L372.14 546.26 L372.22 546.45 M373.44 549.35 L373.59 549.71 L373.74 550.06 L373.89 550.41 L374.05 550.76 L374.20 551.10 L374.34 551.43 L374.38 551.51 M375.89 554.80 L376.05 555.15 L376.22 555.49 L376.38 555.84 L376.55 556.17 L376.72 556.51 L376.89 556.84 L377.06 557.18 L377.23 557.51 L377.41 557.84 L377.59 558.18 L377.78 558.52 L377.97 558.86 L378.16 559.21 L378.37 559.57 L378.58 559.93 L378.80 560.30 L378.99 560.62 L379.19 560.94 L379.29 561.10 M381.20 564.01 L381.44 564.34 L381.67 564.68 L381.91 565.02 L382.14 565.36 L382.38 565.69 L382.62 566.03 L382.68 566.12 M384.66 568.92 L384.89 569.24 L385.12 569.57 L385.36 569.91 L385.59 570.25 L385.83 570.59 L386.07 570.93 L386.18 571.09 M388.51 574.39 L388.74 574.72 L388.98 575.04 L389.21 575.36 L389.45 575.67 L389.68 575.99 L389.92 576.31 L390.16 576.62 L390.40 576.93 L390.64 577.24 L390.88 577.55 L391.13 577.86 L391.38 578.18 L391.64 578.50 L391.89 578.81 L392.15 579.13 L392.41 579.44 L392.66 579.75 L392.92 580.06 L393.18 580.36 L393.44 580.67 M396.02 583.56 L396.29 583.85 L396.56 584.14 L396.84 584.43 L397.12 584.71 L397.40 585.00 L397.68 585.28 L397.97 585.57 L398.11 585.71 M400.97 588.40 L401.27 588.66 L401.57 588.93 L401.88 589.20 L402.18 589.46 L402.49 589.72 L402.80 589.98 L403.11 590.24 M406.36 592.73 L406.68 592.96 L407.00 593.18 L407.33 593.41 L407.65 593.63 L407.98 593.85 L408.30 594.07 L408.63 594.29 L408.97 594.50 L409.30 594.72 L409.64 594.93 L409.98 595.15 L410.32 595.37 L410.67 595.58 L411.02 595.80 L411.37 596.01 L411.72 596.23 L412.08 596.45 L412.45 596.67 L412.63 596.78 M415.57 598.52 L415.91 598.72 L416.26 598.91 L416.61 599.11 L416.95 599.31 L417.31 599.51 L417.66 599.71 M420.54 601.25 L420.90 601.44 L421.27 601.62 L421.63 601.80 L422.00 601.98 L422.37 602.16 L422.64 602.29 M426.00 603.80 L426.34 603.95 L426.69 604.10 L427.04 604.24 L427.39 604.39 L427.75 604.53 L428.10 604.67 L428.46 604.81 L428.83 604.95 L429.19 605.09 L429.56 605.23 L429.94 605.37 L430.32 605.50 L430.71 605.64 L431.11 605.77 L431.51 605.91 L431.92 606.04 L432.23 606.14 M435.12 606.98 L435.48 607.08 L435.84 607.17 L436.20 607.26 L436.57 607.35 L436.94 607.44 L437.23 607.51 M440.17 608.18 L440.58 608.27 L440.98 608.35 L441.39 608.44 L441.80 608.52 L442.21 608.61 L442.31 608.63 M445.61 609.30 L446.02 609.39 L446.43 609.47 L446.84 609.55 L447.24 609.63 L447.65 609.71 L448.05 609.80 L448.44 609.88 L448.84 609.96 L449.23 610.04 L449.62 610.12 L450.00 610.20 L450.41 610.29 L450.81 610.37 L451.21 610.46 L451.62 610.54 L451.92 610.60 M454.80 611.20 L455.20 611.29 L455.59 611.37 L455.99 611.45 L456.38 611.53 L456.77 611.61 L456.87 611.63 M459.81 612.22 L460.20 612.29 L460.59 612.37 L460.98 612.45 L461.37 612.52 L461.76 612.60 L461.86 612.62 M465.20 613.24 L465.60 613.31 L466.00 613.38 L466.40 613.45 L466.80 613.52 L467.21 613.59 L467.61 613.66 L468.02 613.73 L468.42 613.80 L468.83 613.87 L469.24 613.94 L469.65 614.01 L470.05 614.08 L470.46 614.15 L470.87 614.22 L471.28 614.28 L471.48 614.32 M474.41 614.79 L474.81 614.85 L475.21 614.91 L475.61 614.97 L476.00 615.03 L476.39 615.09 L476.49 615.10 M479.36 615.51 L479.72 615.56 L480.11 615.61 L480.55 615.67 L481.00 615.73 L481.46 615.79 M484.73 616.15 L485.19 616.20 L485.66 616.25 L486.12 616.29 L486.57 616.34 L487.02 616.38 L487.46 616.42 L487.89 616.46 L488.31 616.50 L488.73 616.54 L489.13 616.58 L489.52 616.61 L489.90 616.65 L490.26 616.68 L490.61 616.71 L490.94 616.74 L491.10 616.76" stroke="#8000ff"/>
<path d="M103.50 629.90 L103.71 629.90 L103.94 629.89 L104.19 629.89 L104.45 629.89 L104.74 629.89 L105.04 629.88 L105.35 629.88 L105.68 629.88 L106.03 629.87 L106.39 629.87 L106.76 629.87 L107.14 629.86 L107.24 629.86 M109.64 629.84 L110.08 629.83 L110.53 629.83 L110.98 629.82 L111.44 629.82 L111.90 629.81 L112.37 629.81 L112.83 629.80 L113.30 629.80 M115.62 629.77 L116.08 629.76 L116.53 629.76 L116.98 629.75 L117.42 629.74 L117.86 629.74 L118.28 629.73 L118.70 629.72 L119.11 629.72 L119.31 629.71 M121.71 629.67 L122.15 629.66 L122.59 629.65 L123.03 629.64 L123.48 629.63 L123.92 629.62 L124.37 629.62 L124.81 629.61 L125.26 629.60 L125.37 629.59 M127.79 629.54 L128.22 629.53 L128.64 629.52 L129.07 629.51 L129.48 629.50 L129.89 629.49 L130.30 629.48 L130.70 629.47 L131.09 629.45 L131.47 629.44 M133.75 629.36 L134.07 629.35 L134.37 629.33 L134.66 629.32 L134.93 629.30 L135.57 629.27 L136.22 629.22 L136.77 629.18 L137.24 629.13 L137.54 629.10 M139.81 628.64 L140.20 628.56 L140.60 628.47 L141.01 628.37 L141.42 628.27 L141.83 628.16 L142.24 628.05 L142.65 627.93 L143.05 627.82 L143.45 627.71 L143.54 627.68 M145.88 627.09 L146.28 627.02 L146.65 626.95 L147.02 626.88 L147.38 626.78 L147.74 626.66 L148.11 626.50 L148.46 626.31 L148.77 626.10 L149.07 625.87 L149.38 625.62 L149.61 625.42 M151.93 623.34 L152.26 623.08 L152.59 622.83 L152.92 622.57 L153.26 622.32 L153.59 622.08 L153.91 621.84 L154.23 621.60 L154.54 621.37 L154.83 621.15 L155.17 620.89 L155.50 620.63 L155.65 620.50 M157.98 618.87 L158.35 618.69 L158.72 618.51 L159.11 618.33 L159.49 618.14 L159.87 617.95 L160.24 617.75 L160.58 617.53 L160.90 617.30 L161.21 617.03 L161.50 616.75 L161.71 616.53 M163.55 614.20 L163.80 613.90 L164.07 613.59 L164.33 613.27 L164.60 612.96 L164.87 612.63 L165.12 612.31 L165.37 611.99 L165.60 611.67 L165.80 611.36 L166.01 611.01 L166.20 610.66 L166.29 610.49 M167.16 608.13 L167.28 607.77 L167.38 607.44 L167.48 607.10 L167.59 606.74 L167.70 606.37 L167.81 605.99 L167.92 605.59 L168.03 605.19 L168.14 604.79 L168.23 604.48 M168.88 602.12 L168.98 601.75 L169.08 601.37 L169.19 600.99 L169.29 600.61 L169.40 600.22 L169.50 599.83 L169.61 599.44 L169.72 599.04 L169.82 598.65 L169.88 598.45 M170.50 596.10 L170.60 595.70 L170.70 595.30 L170.80 594.89 L170.90 594.48 L171.00 594.06 L171.10 593.65 L171.20 593.24 L171.29 592.82 L171.39 592.42 L171.42 592.32 M172.07 589.98 L172.23 589.54 L172.41 589.09 L172.60 588.67 L172.78 588.28 L172.97 587.92 L173.16 587.58 L173.35 587.26 L173.53 586.96 L173.72 586.68 L173.90 586.40 L173.97 586.29 M175.79 584.66 L176.06 584.83 L176.36 585.07 L176.68 585.36 L177.01 585.69 L177.34 586.05 L177.66 586.40 L177.96 586.74 L178.25 587.05 L178.50 587.30 L178.87 587.67 L179.19 588.01 L179.34 588.17 M181.66 588.66 L181.92 588.48 L182.21 588.25 L182.53 588.00 L182.85 587.71 L183.17 587.41 L183.48 587.08 L183.76 586.74 L184.00 586.40 L184.18 586.07 L184.34 585.73 L184.48 585.37 L184.54 585.19 M185.26 582.82 L185.39 582.47 L185.52 582.11 L185.66 581.76 L185.79 581.39 L185.93 581.02 L186.06 580.64 L186.20 580.25 L186.34 579.85 L186.47 579.43 L186.54 579.22 M187.20 576.79 L187.29 576.40 L187.39 576.00 L187.49 575.59 L187.58 575.18 L187.68 574.76 L187.78 574.34 L187.88 573.91 L187.96 573.53 L188.04 573.16 L188.06 573.07 M188.56 570.76 L188.64 570.36 L188.72 569.96 L188.80 569.56 L188.88 569.15 L188.96 568.74 L189.04 568.33 L189.12 567.91 L189.20 567.50 L189.27 567.13 L189.29 567.05 M189.71 564.74 L189.77 564.39 L189.83 564.04 L189.89 563.66 L189.96 563.26 L190.03 562.84 L190.10 562.38 L190.18 561.89 L190.26 561.37 L190.31 561.09 M190.68 558.69 L190.74 558.32 L190.79 557.94 L190.85 557.56 L190.91 557.16 L190.97 556.76 L191.04 556.35 L191.10 555.94 L191.16 555.52 L191.23 555.09 L191.24 554.98 M191.60 552.59 L191.67 552.15 L191.73 551.71 L191.80 551.27 L191.86 550.84 L191.93 550.41 L191.99 549.98 L192.05 549.56 L192.11 549.14 L192.14 548.93 M192.49 546.59 L192.54 546.23 L192.59 545.88 L192.65 545.44 L192.72 544.97 L192.78 544.51 L192.84 544.07 L192.90 543.63 L192.95 543.20 L192.99 542.89 M193.28 540.52 L193.33 540.14 L193.38 539.76 L193.42 539.39 L193.47 539.02 L193.52 538.65 L193.57 538.27 L193.62 537.90 L193.68 537.53 L193.73 537.15 L193.79 536.77 M194.18 534.50 L194.26 534.09 L194.34 533.68 L194.42 533.26 L194.50 532.85 L194.59 532.43 L194.68 532.01 L194.77 531.58 L194.86 531.16 L194.95 530.74 M195.47 528.40 L195.56 528.01 L195.64 527.62 L195.73 527.25 L195.81 526.88 L195.90 526.52 L195.98 526.18 L196.05 525.84 L196.13 525.51 L196.20 525.20 L196.32 524.67 M196.83 522.40 L196.92 522.00 L197.01 521.63 L197.10 521.27 L197.19 520.92 L197.29 520.59 L197.39 520.26 L197.49 519.95 L197.61 519.63 L197.75 519.28 L197.94 518.81 L197.99 518.70 M199.40 516.36 L199.65 516.19 L199.90 516.10 L200.18 516.10 L200.47 516.19 L200.77 516.35 L201.08 516.59 L201.39 516.89 L201.70 517.25 L202.01 517.66 L202.31 518.11 L202.60 518.60 L202.64 518.67 M203.62 521.03 L203.75 521.41 L203.88 521.80 L204.01 522.20 L204.14 522.62 L204.28 523.03 L204.42 523.46 L204.56 523.89 L204.70 524.32 L204.81 524.65 M205.62 527.01 L205.75 527.39 L205.88 527.79 L206.02 528.18 L206.15 528.59 L206.29 528.99 L206.43 529.40 L206.56 529.80 L206.70 530.21 L206.83 530.61 L206.87 530.71 M207.69 533.13 L207.82 533.48 L207.94 533.83 L208.08 534.22 L208.23 534.66 L208.38 535.09 L208.53 535.51 L208.68 535.93 L208.82 536.35 L208.96 536.75 M209.83 539.10 L209.97 539.44 L210.11 539.76 L210.25 540.08 L210.39 540.38 L210.56 540.72 L210.81 541.17 L211.06 541.58 L211.31 541.97 L211.56 542.32 L211.82 542.65 L212.01 542.88 M214.30 544.98 L214.65 545.08 L215.07 545.06 L215.43 544.95 L215.71 544.83 L216.00 544.68 L216.32 544.49 L216.64 544.27 L216.98 544.03 L217.32 543.76 L217.66 543.47 L217.99 543.17 M219.91 540.84 L220.10 540.51 L220.30 540.18 L220.49 539.83 L220.69 539.48 L220.88 539.11 L221.07 538.73 L221.26 538.34 L221.45 537.94 L221.65 537.53 L221.85 537.11 M222.91 534.79 L223.07 534.42 L223.23 534.05 L223.38 533.67 L223.54 533.29 L223.70 532.91 L223.85 532.52 L224.01 532.12 L224.16 531.73 L224.31 531.33 L224.38 531.13 M225.15 528.77 L225.26 528.40 L225.37 528.02 L225.47 527.63 L225.57 527.24 L225.67 526.85 L225.77 526.45 L225.86 526.06 L225.96 525.66 L226.05 525.26 L226.10 525.06 M226.63 522.75 L226.72 522.35 L226.81 521.96 L226.91 521.57 L227.00 521.18 L227.10 520.80 L227.20 520.40 L227.30 519.99 L227.40 519.59 L227.49 519.18 L227.54 518.97 M228.08 516.64 L228.17 516.24 L228.27 515.85 L228.37 515.46 L228.47 515.07 L228.58 514.68 L228.69 514.30 L228.80 513.93 L228.92 513.56 L229.04 513.20 L229.13 512.94 M230.09 510.60 L230.27 510.21 L230.45 509.82 L230.63 509.45 L230.82 509.08 L231.02 508.72 L231.22 508.37 L231.42 508.03 L231.64 507.70 L231.86 507.38 L232.09 507.08 L232.27 506.86 M234.53 505.23 L234.91 505.09 L235.30 504.96 L235.70 504.84 L236.10 504.73 L236.50 504.62 L236.89 504.50 L237.28 504.38 L237.66 504.25 L238.03 504.10 L238.21 504.02 M240.59 502.45 L240.89 502.20 L241.19 501.95 L241.48 501.68 L241.76 501.41 L242.04 501.12 L242.31 500.81 L242.57 500.49 L242.83 500.15 L243.08 499.79 L243.29 499.45 L243.47 499.15 L243.64 498.84 M244.67 496.52 L244.81 496.15 L244.94 495.76 L245.08 495.37 L245.22 494.97 L245.35 494.57 L245.49 494.15 L245.63 493.73 L245.77 493.30 L245.91 492.86 M246.70 490.44 L246.81 490.07 L246.93 489.68 L247.05 489.29 L247.17 488.90 L247.28 488.50 L247.40 488.10 L247.52 487.69 L247.64 487.29 L247.75 486.88 L247.78 486.78 M248.43 484.46 L248.54 484.06 L248.65 483.67 L248.75 483.29 L248.85 482.91 L248.95 482.54 L249.05 482.18 L249.16 481.79 L249.27 481.37 L249.38 480.95 L249.43 480.75 M250.02 478.37 L250.11 477.98 L250.20 477.60 L250.29 477.22 L250.38 476.84 L250.47 476.46 L250.56 476.08 L250.64 475.70 L250.73 475.32 L250.82 474.94 L250.88 474.65 M251.42 472.33 L251.51 471.95 L251.60 471.57 L251.68 471.19 L251.76 470.81 L251.85 470.43 L251.93 470.05 L252.01 469.67 L252.10 469.29 L252.18 468.91 L252.25 468.62 M252.79 466.26 L252.89 465.85 L252.99 465.44 L253.09 465.02 L253.20 464.60 L253.29 464.24 L253.39 463.89 L253.49 463.53 L253.58 463.17 L253.69 462.81 L253.76 462.54 M254.44 460.25 L254.55 459.87 L254.66 459.49 L254.78 459.11 L254.89 458.73 L255.00 458.34 L255.12 457.94 L255.23 457.54 L255.35 457.14 L255.46 456.74 L255.52 456.53 M256.12 454.21 L256.21 453.86 L256.29 453.50 L256.38 453.14 L256.46 452.78 L256.55 452.41 L256.64 452.03 L256.72 451.66 L256.81 451.28 L256.89 450.89 L256.98 450.50 M257.49 448.13 L257.58 447.73 L257.66 447.33 L257.75 446.92 L257.83 446.52 L257.92 446.11 L258.00 445.71 L258.09 445.30 L258.18 444.90 L258.26 444.49 L258.28 444.39 M258.78 442.09 L258.87 441.69 L258.96 441.30 L259.04 440.90 L259.13 440.51 L259.22 440.12 L259.31 439.73 L259.40 439.34 L259.48 438.95 L259.57 438.56 L259.62 438.37 M260.15 436.03 L260.24 435.64 L260.33 435.25 L260.42 434.86 L260.51 434.47 L260.60 434.08 L260.69 433.69 L260.78 433.30 L260.87 432.91 L260.96 432.52 L261.00 432.32 M261.54 429.97 L261.63 429.58 L261.71 429.18 L261.80 428.79 L261.89 428.39 L261.98 428.00 L262.06 427.61 L262.15 427.22 L262.24 426.83 L262.32 426.44 L262.37 426.25 M262.88 423.89 L262.97 423.49 L263.06 423.10 L263.14 422.71 L263.23 422.31 L263.32 421.92 L263.40 421.52 L263.49 421.12 L263.57 420.73 L263.66 420.34 L263.68 420.24 M264.18 417.88 L264.26 417.49 L264.35 417.10 L264.43 416.71 L264.51 416.32 L264.59 415.94 L264.67 415.55 L264.74 415.17 L264.82 414.78 L264.90 414.40 L264.94 414.20 M265.42 411.80 L265.49 411.40 L265.57 411.00 L265.64 410.61 L265.72 410.22 L265.79 409.82 L265.87 409.43 L265.94 409.04 L266.02 408.65 L266.09 408.26 L266.11 408.16 M266.54 405.82 L266.61 405.43 L266.68 405.03 L266.75 404.64 L266.82 404.25 L266.89 403.86 L266.96 403.47 L267.04 403.08 L267.11 402.68 L267.18 402.29 L267.21 402.09 M267.63 399.74 L267.69 399.35 L267.76 398.96 L267.83 398.57 L267.89 398.18 L267.96 397.79 L268.02 397.41 L268.09 397.02 L268.15 396.63 L268.21 396.24 L268.25 396.05 M268.64 393.70 L268.70 393.30 L268.77 392.90 L268.84 392.51 L268.90 392.10 L268.97 391.70 L269.04 391.30 L269.11 390.89 L269.18 390.48 L269.26 390.06 L269.27 389.96 M269.69 387.66 L269.76 387.27 L269.83 386.88 L269.90 386.48 L269.98 386.08 L270.05 385.68 L270.12 385.27 L270.20 384.86 L270.28 384.45 L270.35 384.04 L270.37 383.94 M270.82 381.54 L270.90 381.12 L270.98 380.71 L271.05 380.29 L271.13 379.88 L271.21 379.47 L271.29 379.06 L271.37 378.66 L271.45 378.26 L271.52 377.86 M271.98 375.57 L272.05 375.21 L272.12 374.86 L272.19 374.51 L272.26 374.17 L272.35 373.76 L272.45 373.28 L272.55 372.82 L272.65 372.35 L272.74 371.90 L272.77 371.78 M273.26 369.50 L273.35 369.09 L273.44 368.69 L273.53 368.29 L273.62 367.90 L273.71 367.51 L273.80 367.14 L273.89 366.77 L273.98 366.41 L274.07 366.06 L274.14 365.80 M274.88 363.37 L275.06 362.88 L275.24 362.42 L275.42 361.99 L275.61 361.59 L275.79 361.22 L275.97 360.87 L276.16 360.54 L276.34 360.24 L276.52 359.95 L276.70 359.68 M278.72 357.58 L279.06 357.48 L279.42 357.47 L279.74 357.54 L280.01 357.66 L280.30 357.83 L280.60 358.04 L280.90 358.30 L281.20 358.60 L281.50 358.94 L281.79 359.32 L282.07 359.73 L282.14 359.84 M283.22 362.17 L283.35 362.53 L283.48 362.90 L283.60 363.28 L283.73 363.68 L283.85 364.09 L283.98 364.51 L284.11 364.95 L284.23 365.40 L284.36 365.86 M284.98 368.15 L285.07 368.52 L285.16 368.89 L285.25 369.27 L285.34 369.66 L285.43 370.06 L285.53 370.45 L285.62 370.86 L285.71 371.26 L285.80 371.67 L285.85 371.88 M286.39 374.27 L286.49 374.68 L286.58 375.09 L286.68 375.50 L286.78 375.90 L286.88 376.31 L286.98 376.70 L287.07 377.09 L287.17 377.48 L287.27 377.87 L287.30 377.97 M287.91 380.30 L288.01 380.68 L288.12 381.07 L288.22 381.46 L288.32 381.85 L288.43 382.24 L288.54 382.63 L288.64 383.02 L288.75 383.40 L288.85 383.79 L288.90 383.99 M289.54 386.32 L289.65 386.71 L289.75 387.09 L289.86 387.48 L289.96 387.87 L290.07 388.25 L290.18 388.64 L290.28 389.02 L290.39 389.40 L290.49 389.79 L290.57 390.07 M291.22 392.37 L291.32 392.76 L291.43 393.15 L291.54 393.53 L291.65 393.92 L291.76 394.31 L291.87 394.71 L291.97 395.10 L292.08 395.50 L292.19 395.89 L292.25 396.09 M292.90 398.48 L293.00 398.86 L293.10 399.23 L293.20 399.60 L293.30 399.98 L293.40 400.35 L293.50 400.73 L293.60 401.11 L293.70 401.49 L293.80 401.87 L293.88 402.15 M294.51 404.48 L294.61 404.87 L294.72 405.27 L294.83 405.66 L294.95 406.06 L295.06 406.47 L295.17 406.87 L295.29 407.28 L295.41 407.69 L295.53 408.09 L295.55 408.18 M296.25 410.53 L296.37 410.92 L296.49 411.31 L296.60 411.71 L296.72 412.10 L296.85 412.50 L296.97 412.90 L297.09 413.30 L297.21 413.70 L297.34 414.10 L297.37 414.20 M298.11 416.58 L298.23 416.98 L298.36 417.36 L298.48 417.75 L298.60 418.13 L298.72 418.51 L298.84 418.89 L298.96 419.26 L299.08 419.62 L299.20 419.98 L299.31 420.34 M300.08 422.64 L300.22 423.03 L300.35 423.41 L300.49 423.80 L300.62 424.17 L300.75 424.55 L300.88 424.92 L301.02 425.29 L301.15 425.66 L301.28 426.03 L301.41 426.39 M302.23 428.66 L302.36 429.03 L302.50 429.40 L302.63 429.77 L302.76 430.14 L302.90 430.52 L303.03 430.89 L303.17 431.27 L303.30 431.65 L303.43 432.03 L303.56 432.41 M304.35 434.70 L304.49 435.09 L304.62 435.47 L304.75 435.85 L304.88 436.23 L305.02 436.61 L305.15 436.99 L305.29 437.37 L305.42 437.75 L305.56 438.13 L305.66 438.41 M306.59 440.83 L306.74 441.20 L306.90 441.57 L307.06 441.95 L307.22 442.33 L307.38 442.71 L307.54 443.08 L307.71 443.45 L307.88 443.83 L308.04 444.20 L308.17 444.48 M309.29 446.85 L309.46 447.21 L309.64 447.57 L309.81 447.93 L309.98 448.29 L310.16 448.65 L310.33 449.01 L310.50 449.36 L310.67 449.72 L310.85 450.07 L311.02 450.42 L311.06 450.51 M312.21 452.93 L312.38 453.28 L312.54 453.62 L312.71 453.97 L312.88 454.31 L313.04 454.65 L313.21 455.00 L313.38 455.34 L313.55 455.69 L313.73 456.04 L313.91 456.40 L314.00 456.57 M315.23 458.90 L315.44 459.30 L315.63 459.64 L315.81 459.95 L316.00 460.28 L316.18 460.60 L316.38 460.94 L316.58 461.27 L316.78 461.61 L316.98 461.95 L317.19 462.29 L317.40 462.64 M318.86 465.02 L319.09 465.38 L319.30 465.74 L319.52 466.10 L319.74 466.45 L319.96 466.81 L320.18 467.17 L320.39 467.52 L320.60 467.88 L320.81 468.23 L321.02 468.58 L321.07 468.67 M322.40 471.03 L322.59 471.39 L322.79 471.75 L322.97 472.10 L323.16 472.45 L323.34 472.80 L323.52 473.15 L323.70 473.50 L323.88 473.84 L324.06 474.19 L324.23 474.54 L324.36 474.79 M325.48 477.06 L325.66 477.42 L325.83 477.78 L326.01 478.14 L326.19 478.51 L326.37 478.88 L326.55 479.25 L326.73 479.63 L326.92 480.01 L327.10 480.40 L327.28 480.77 M328.41 483.10 L328.58 483.46 L328.75 483.82 L328.92 484.18 L329.10 484.54 L329.27 484.91 L329.44 485.28 L329.62 485.64 L329.79 486.01 L329.97 486.38 L330.14 486.76 L330.19 486.85 M331.28 489.19 L331.45 489.56 L331.62 489.94 L331.79 490.31 L331.96 490.69 L332.13 491.06 L332.30 491.43 L332.47 491.80 L332.63 492.17 L332.80 492.54 L332.96 492.91 M333.97 495.23 L334.13 495.60 L334.29 495.97 L334.45 496.35 L334.61 496.72 L334.77 497.10 L334.93 497.47 L335.08 497.84 L335.24 498.22 L335.40 498.59 L335.55 498.97 M336.51 501.30 L336.66 501.67 L336.81 502.04 L336.96 502.41 L337.11 502.77 L337.26 503.14 L337.40 503.51 L337.55 503.87 L337.70 504.24 L337.84 504.60 L337.99 504.96 M338.91 507.33 L339.06 507.71 L339.20 508.09 L339.35 508.47 L339.49 508.85 L339.63 509.23 L339.77 509.61 L339.91 509.98 L340.05 510.36 L340.19 510.74 L340.29 511.02 M341.19 513.44 L341.32 513.81 L341.46 514.17 L341.60 514.54 L341.73 514.91 L341.87 515.28 L342.01 515.65 L342.15 516.01 L342.29 516.38 L342.42 516.74 L342.56 517.11 M343.47 519.45 L343.61 519.82 L343.76 520.19 L343.90 520.55 L344.04 520.92 L344.18 521.28 L344.33 521.64 L344.47 522.01 L344.61 522.37 L344.76 522.73 L344.90 523.10 L344.94 523.19 M345.86 525.50 L346.01 525.87 L346.16 526.25 L346.32 526.64 L346.48 527.02 L346.63 527.41 L346.80 527.80 L346.96 528.20 L347.11 528.56 L347.25 528.91 L347.36 529.17 M348.33 531.54 L348.49 531.91 L348.64 532.29 L348.80 532.67 L348.96 533.04 L349.11 533.42 L349.27 533.80 L349.43 534.18 L349.59 534.56 L349.75 534.94 L349.87 535.23 M350.88 537.58 L351.04 537.95 L351.20 538.32 L351.36 538.69 L351.52 539.05 L351.68 539.42 L351.84 539.77 L352.00 540.13 L352.16 540.48 L352.32 540.83 L352.49 541.19 L352.53 541.29 M353.64 543.64 L353.81 544.01 L353.98 544.37 L354.16 544.73 L354.33 545.09 L354.51 545.45 L354.69 545.81 L354.86 546.16 L355.04 546.52 L355.21 546.87 L355.39 547.22 L355.44 547.31 M356.66 549.69 L356.85 550.04 L357.03 550.39 L357.22 550.75 L357.41 551.10 L357.61 551.46 L357.80 551.82 L357.99 552.17 L358.18 552.52 L358.38 552.87 L358.57 553.22 L358.67 553.39 M360.00 555.76 L360.20 556.11 L360.40 556.46 L360.60 556.81 L360.81 557.16 L361.01 557.51 L361.22 557.86 L361.42 558.21 L361.63 558.56 L361.84 558.91 L362.05 559.26 L362.15 559.43 M363.64 561.83 L363.86 562.16 L364.07 562.50 L364.29 562.83 L364.51 563.17 L364.73 563.51 L364.96 563.85 L365.18 564.19 L365.41 564.53 L365.63 564.87 L365.86 565.21 L366.09 565.55 M367.64 567.81 L367.88 568.14 L368.11 568.47 L368.35 568.79 L368.59 569.12 L368.82 569.44 L369.06 569.77 L369.30 570.09 L369.54 570.41 L369.79 570.72 L370.03 571.04 L370.27 571.35 L370.46 571.58 M372.37 573.87 L372.64 574.18 L372.90 574.48 L373.17 574.77 L373.44 575.07 L373.72 575.36 L373.99 575.65 L374.26 575.93 L374.54 576.22 L374.81 576.50 L375.09 576.78 L375.37 577.06 L375.65 577.33 L375.93 577.61 M378.24 579.80 L378.54 580.08 L378.85 580.35 L379.15 580.63 L379.46 580.91 L379.77 581.19 L380.07 581.46 L380.36 581.72 L380.64 581.98 L380.93 582.24 L381.23 582.50 L381.52 582.76 L381.81 583.02 L381.96 583.15 M384.32 585.19 L384.63 585.45 L384.94 585.71 L385.26 585.97 L385.57 586.23 L385.89 586.49 L386.20 586.74 L386.52 587.00 L386.84 587.25 L387.16 587.50 L387.48 587.75 L387.81 588.00 L388.05 588.18 M390.33 589.83 L390.66 590.06 L391.00 590.28 L391.34 590.51 L391.67 590.73 L392.01 590.95 L392.36 591.17 L392.70 591.39 L393.04 591.61 L393.39 591.82 L393.74 592.04 L394.09 592.25 M396.37 593.59 L396.72 593.79 L397.07 593.98 L397.43 594.18 L397.78 594.37 L398.13 594.56 L398.48 594.75 L398.83 594.94 L399.18 595.12 L399.53 595.30 L399.88 595.48 L400.15 595.62 M402.41 596.73 L402.78 596.91 L403.16 597.08 L403.53 597.25 L403.90 597.42 L404.28 597.58 L404.65 597.74 L405.02 597.90 L405.40 598.06 L405.77 598.21 L406.14 598.37 M408.47 599.28 L408.84 599.42 L409.21 599.56 L409.59 599.70 L409.96 599.84 L410.33 599.97 L410.70 600.11 L411.07 600.24 L411.45 600.37 L411.82 600.50 L412.20 600.63 M414.51 601.41 L414.90 601.53 L415.28 601.65 L415.67 601.77 L416.06 601.88 L416.44 602.00 L416.83 602.11 L417.21 602.23 L417.60 602.34 L417.99 602.45 L418.28 602.53 M420.59 603.16 L420.98 603.26 L421.36 603.36 L421.75 603.46 L422.14 603.56 L422.52 603.65 L422.91 603.75 L423.30 603.85 L423.68 603.94 L424.06 604.04 L424.35 604.11 M426.65 604.64 L427.01 604.72 L427.37 604.80 L427.74 604.88 L428.11 604.96 L428.48 605.04 L428.85 605.12 L429.23 605.19 L429.62 605.27 L430.00 605.35 L430.40 605.42 M432.71 605.85 L433.16 605.93 L433.63 606.02 L434.10 606.10 L434.44 606.16 L434.79 606.22 L435.14 606.28 L435.50 606.34 L435.86 606.40 L436.23 606.46 L436.41 606.49 M438.74 606.85 L439.14 606.91 L439.54 606.97 L439.95 607.03 L440.35 607.09 L440.77 607.15 L441.18 607.21 L441.59 607.27 L442.01 607.33 L442.42 607.39 M444.83 607.74 L445.25 607.80 L445.66 607.86 L446.08 607.92 L446.49 607.98 L446.90 608.04 L447.31 608.10 L447.72 608.16 L448.12 608.22 L448.52 608.28 M450.82 608.62 L451.22 608.69 L451.63 608.75 L452.03 608.81 L452.43 608.88 L452.84 608.94 L453.24 609.00 L453.64 609.07 L454.04 609.13 L454.44 609.19 L454.54 609.21 M456.91 609.59 L457.31 609.65 L457.70 609.71 L458.10 609.77 L458.49 609.83 L458.89 609.90 L459.28 609.96 L459.67 610.02 L460.07 610.08 L460.46 610.14 L460.66 610.17 M462.92 610.51 L463.32 610.56 L463.71 610.62 L464.11 610.68 L464.50 610.73 L464.90 610.79 L465.30 610.84 L465.70 610.89 L466.10 610.95 L466.50 611.00 L466.70 611.03 M469.04 611.33 L469.44 611.38 L469.85 611.43 L470.26 611.48 L470.67 611.53 L471.07 611.58 L471.48 611.62 L471.89 611.67 L472.30 611.72 L472.70 611.77 M475.01 612.04 L475.41 612.08 L475.80 612.13 L476.20 612.17 L476.59 612.22 L476.98 612.26 L477.37 612.30 L477.75 612.35 L478.13 612.39 L478.51 612.43 L478.79 612.46 M481.12 612.72 L481.57 612.77 L482.04 612.82 L482.50 612.87 L482.97 612.92 L483.44 612.97 L483.91 613.02 L484.38 613.07 L484.84 613.12 M487.13 613.35 L487.57 613.40 L488.00 613.44 L488.42 613.48 L488.83 613.52 L489.23 613.56 L489.61 613.60 L489.99 613.64 L490.35 613.67 L490.69 613.71 L490.86 613.72" stroke="#ff8000"/>
<path d="M103.50 629.80 L103.71 629.80 L103.96 629.79 L104.23 629.79 L104.52 629.79 L104.84 629.78 L105.17 629.78 L105.53 629.78 L105.91 629.78 L106.30 629.77 L106.71 629.77 L107.13 629.77 L107.56 629.76 L108.00 629.76 L108.45 629.75 L108.91 629.75 L109.37 629.74 L109.84 629.73 L110.31 629.73 L110.42 629.73 M116.40 629.53 L116.84 629.51 L117.27 629.49 L117.70 629.46 L118.13 629.44 L118.56 629.41 L118.98 629.38 L119.41 629.35 L119.82 629.33 L120.24 629.30 L120.65 629.26 L121.06 629.23 L121.46 629.20 L121.86 629.16 L122.24 629.13 L122.63 629.09 L123.00 629.05 L123.28 629.02 M129.19 627.78 L129.53 627.67 L129.87 627.56 L130.20 627.45 L130.52 627.35 L130.84 627.25 L131.24 627.14 L131.69 627.05 L132.10 627.01 L132.50 626.99 L132.87 626.97 L133.23 626.93 L133.58 626.85 L133.93 626.71 L134.28 626.51 L134.63 626.20 L134.94 625.85 L135.11 625.61 L135.28 625.33 L135.44 625.03 L135.60 624.71 M138.00 618.81 L138.19 618.47 L138.40 618.15 L138.63 617.83 L138.90 617.51 L139.18 617.23 L139.46 616.97 L139.76 616.73 L140.06 616.51 L140.37 616.31 L140.69 616.11 L141.01 615.91 L141.33 615.71 L141.66 615.51 L141.99 615.29 L142.31 615.06 L142.64 614.81 L142.97 614.53 L143.29 614.23 L143.61 613.88 L143.92 613.50 L144.14 613.20 L144.29 613.00 M147.61 607.10 L147.80 606.71 L147.99 606.33 L148.18 605.95 L148.36 605.57 L148.55 605.19 L148.74 604.82 L148.92 604.46 L149.10 604.09 L149.28 603.74 L149.46 603.39 L149.64 603.02 L149.83 602.64 L150.01 602.25 L150.19 601.86 L150.37 601.46 L150.55 601.05 L150.72 600.65 L150.90 600.24 L150.94 600.13 M153.63 594.28 L153.80 594.02 L153.97 593.77 L154.19 593.48 L154.57 593.10 L154.95 592.82 L155.34 592.62 L155.73 592.49 L156.12 592.41 L156.51 592.36 L156.90 592.31 L157.27 592.25 L157.63 592.15 L157.98 592.01 L158.31 591.80 L158.63 591.49 L158.84 591.21 L159.01 590.94 L159.18 590.65 L159.35 590.34 L159.50 590.02 L159.58 589.85 M161.53 583.91 L161.65 583.56 L161.76 583.20 L161.88 582.84 L161.99 582.48 L162.11 582.12 L162.22 581.75 L162.34 581.38 L162.45 581.01 L162.57 580.63 L162.68 580.25 L162.79 579.87 L162.91 579.48 L163.02 579.09 L163.13 578.70 L163.25 578.30 L163.36 577.90 L163.48 577.50 L163.59 577.09 L163.62 576.99 M165.24 571.08 L165.35 570.68 L165.46 570.27 L165.57 569.87 L165.67 569.46 L165.78 569.06 L165.88 568.65 L165.99 568.25 L166.09 567.85 L166.19 567.44 L166.29 567.05 L166.39 566.65 L166.48 566.26 L166.57 565.87 L166.66 565.48 L166.74 565.10 L166.83 564.72 L166.91 564.35 L166.94 564.17 M167.85 558.19 L167.90 557.81 L167.94 557.42 L167.99 557.03 L168.03 556.64 L168.08 556.24 L168.13 555.84 L168.19 555.43 L168.24 555.02 L168.30 554.60 L168.35 554.22 L168.41 553.83 L168.46 553.43 L168.52 553.03 L168.58 552.62 L168.63 552.20 L168.69 551.78 L168.75 551.36 M169.61 545.38 L169.67 545.04 L169.73 544.70 L169.79 544.38 L169.87 543.90 L169.97 543.39 L170.07 542.91 L170.17 542.44 L170.26 542.00 L170.36 541.58 L170.46 541.17 L170.56 540.79 L170.65 540.42 L170.75 540.06 L170.85 539.72 L170.96 539.39 L171.06 539.07 L171.16 538.77 L171.27 538.47 M174.92 538.27 L175.12 538.61 L175.29 538.92 L175.48 539.26 L175.67 539.63 L175.88 540.03 L176.09 540.44 L176.31 540.86 L176.52 541.28 L176.74 541.70 L176.96 542.11 L177.17 542.50 L177.37 542.88 L177.57 543.23 L177.76 543.55 L177.93 543.82 L178.09 544.06 L178.36 544.39 L178.83 544.84 L179.09 544.86 M180.72 538.93 L180.81 538.49 L180.90 538.07 L181.00 537.67 L181.10 537.30 L181.22 536.89 L181.35 536.49 L181.48 536.11 L181.62 535.75 L181.76 535.38 L181.90 535.03 L182.04 534.68 L182.18 534.32 L182.32 533.96 L182.46 533.60 L182.59 533.23 L182.71 532.84 L182.83 532.44 L182.92 532.12 M183.87 526.15 L183.93 525.73 L183.98 525.32 L184.04 524.91 L184.10 524.50 L184.16 524.11 L184.22 523.72 L184.28 523.33 L184.34 522.94 L184.40 522.55 L184.47 522.16 L184.53 521.78 L184.59 521.39 L184.65 521.00 L184.71 520.60 L184.77 520.21 L184.83 519.81 L184.89 519.41 L184.92 519.21 M185.50 513.32 L185.53 512.94 L185.55 512.55 L185.58 512.15 L185.61 511.75 L185.63 511.35 L185.66 510.93 L185.70 510.51 L185.73 510.07 L185.76 509.63 L185.80 509.17 L185.84 508.70 L185.89 508.22 L185.92 507.84 L185.96 507.50 L185.99 507.15 L186.03 506.79 L186.07 506.43 M186.73 500.51 L186.78 500.09 L186.83 499.67 L186.87 499.25 L186.92 498.82 L186.97 498.40 L187.01 497.97 L187.06 497.55 L187.10 497.12 L187.15 496.69 L187.19 496.27 L187.24 495.84 L187.28 495.41 L187.32 495.01 L187.36 494.63 L187.39 494.25 L187.43 493.87 L187.46 493.58 M187.98 487.71 L188.02 487.30 L188.05 486.90 L188.09 486.49 L188.12 486.08 L188.16 485.67 L188.19 485.27 L188.23 484.86 L188.26 484.45 L188.30 484.04 L188.33 483.63 L188.37 483.23 L188.41 482.82 L188.44 482.42 L188.48 482.01 L188.51 481.61 L188.55 481.20 L188.58 480.80 M189.10 474.81 L189.14 474.41 L189.17 474.01 L189.21 473.61 L189.24 473.21 L189.28 472.81 L189.31 472.41 L189.35 472.01 L189.38 471.60 L189.42 471.20 L189.45 470.80 L189.49 470.40 L189.52 470.00 L189.56 469.60 L189.59 469.20 L189.63 468.80 L189.67 468.40 L189.70 468.00 L189.71 467.90 M190.27 461.99 L190.31 461.57 L190.34 461.15 L190.38 460.72 L190.42 460.30 L190.46 459.88 L190.50 459.46 L190.54 459.04 L190.58 458.63 L190.62 458.21 L190.66 457.80 L190.71 457.38 L190.75 456.97 L190.79 456.57 L190.83 456.16 L190.87 455.76 L190.91 455.36 L190.94 455.06 M191.68 449.19 L191.75 448.73 L191.82 448.28 L191.89 447.83 L191.96 447.40 L192.03 446.97 L192.10 446.54 L192.17 446.13 L192.25 445.72 L192.32 445.32 L192.39 444.93 L192.46 444.54 L192.53 444.17 L192.61 443.80 L192.68 443.44 L192.75 443.09 L192.82 442.74 L192.90 442.41 L192.93 442.25 M195.19 436.31 L195.54 436.11 L195.88 436.23 L196.22 436.73 L196.52 437.46 L196.60 437.69 L196.68 437.94 L196.76 438.21 L196.84 438.50 L196.93 438.80 L197.01 439.13 L197.10 439.47 L197.18 439.83 L197.27 440.20 L197.35 440.59 L197.44 440.99 L197.53 441.41 L197.62 441.85 L197.70 442.30 L197.73 442.41 M198.69 448.33 L198.74 448.70 L198.79 449.07 L198.84 449.45 L198.89 449.83 L198.94 450.22 L198.99 450.62 L199.04 451.01 L199.09 451.41 L199.14 451.82 L199.19 452.23 L199.24 452.64 L199.29 453.06 L199.34 453.47 L199.39 453.89 L199.44 454.32 L199.49 454.74 L199.55 455.17 L199.56 455.27 M200.30 461.16 L200.35 461.54 L200.40 461.93 L200.45 462.32 L200.50 462.71 L200.55 463.10 L200.61 463.49 L200.66 463.89 L200.71 464.29 L200.76 464.69 L200.81 465.09 L200.87 465.50 L200.92 465.90 L200.97 466.31 L201.03 466.71 L201.08 467.12 L201.13 467.53 L201.19 467.94 L201.20 468.04 M202.00 474.00 L202.05 474.40 L202.11 474.79 L202.16 475.18 L202.21 475.57 L202.27 475.95 L202.32 476.33 L202.37 476.71 L202.43 477.11 L202.49 477.53 L202.55 477.95 L202.61 478.38 L202.67 478.80 L202.73 479.22 L202.78 479.64 L202.84 480.06 L202.90 480.47 L202.96 480.89 M203.81 486.78 L203.87 487.17 L203.93 487.56 L203.99 487.94 L204.05 488.32 L204.11 488.70 L204.17 489.08 L204.23 489.45 L204.29 489.81 L204.35 490.18 L204.41 490.54 L204.48 490.90 L204.54 491.25 L204.60 491.60 L204.68 492.06 L204.77 492.51 L204.85 492.96 L204.93 493.41 L205.00 493.75 M206.22 499.60 L206.31 499.97 L206.40 500.32 L206.48 500.67 L206.57 501.02 L206.66 501.35 L206.74 501.68 L206.83 501.99 L206.91 502.30 L207.00 502.60 L207.16 503.13 L207.32 503.64 L207.48 504.11 L207.65 504.56 L207.81 504.98 L207.97 505.38 L208.14 505.75 L208.30 506.10 L208.46 506.44 L208.54 506.60 M213.57 509.60 L213.80 509.45 L214.06 509.29 L214.34 509.11 L214.63 508.92 L214.94 508.71 L215.26 508.49 L215.59 508.25 L215.93 508.01 L216.27 507.74 L216.61 507.47 L216.96 507.18 L217.31 506.88 L217.66 506.57 L218.00 506.25 L218.33 505.91 L218.66 505.57 L218.96 505.24 L219.18 504.97 L219.41 504.69 L219.64 504.40 L219.88 504.09 L220.11 503.78 M223.96 497.84 L224.16 497.50 L224.35 497.18 L224.57 496.81 L224.78 496.43 L224.99 496.06 L225.19 495.68 L225.38 495.30 L225.57 494.92 L225.76 494.55 L225.93 494.18 L226.11 493.81 L226.28 493.44 L226.45 493.07 L226.62 492.71 L226.79 492.35 L226.95 492.00 L227.12 491.64 L227.29 491.30 L227.45 490.95 M230.88 485.01 L231.09 484.69 L231.29 484.39 L231.50 484.09 L231.70 483.80 L231.97 483.44 L232.23 483.12 L232.48 482.82 L232.73 482.55 L232.99 482.29 L233.24 482.03 L233.49 481.78 L233.74 481.51 L234.00 481.23 L234.26 480.93 L234.53 480.59 L234.81 480.22 L235.10 479.80 L235.28 479.53 L235.47 479.25 L235.66 478.96 L235.85 478.67 L236.05 478.37 L236.25 478.06 M239.30 472.20 L239.41 471.88 L239.53 471.55 L239.63 471.21 L239.74 470.86 L239.85 470.51 L239.95 470.16 L240.05 469.79 L240.15 469.42 L240.24 469.05 L240.34 468.67 L240.43 468.28 L240.53 467.89 L240.62 467.50 L240.71 467.10 L240.80 466.70 L240.89 466.30 L240.98 465.89 L241.06 465.48 L241.11 465.28 M242.39 459.36 L242.48 458.98 L242.57 458.61 L242.65 458.23 L242.74 457.85 L242.82 457.47 L242.91 457.09 L242.99 456.71 L243.08 456.33 L243.17 455.94 L243.25 455.56 L243.34 455.17 L243.42 454.79 L243.51 454.40 L243.60 454.01 L243.68 453.62 L243.77 453.23 L243.85 452.84 L243.94 452.45 M245.20 446.53 L245.28 446.15 L245.36 445.77 L245.43 445.38 L245.51 444.99 L245.59 444.60 L245.68 444.21 L245.76 443.82 L245.84 443.42 L245.92 443.02 L246.00 442.62 L246.08 442.22 L246.16 441.82 L246.24 441.42 L246.32 441.01 L246.40 440.61 L246.48 440.21 L246.56 439.80 L246.60 439.60 M247.74 433.73 L247.81 433.34 L247.88 432.96 L247.95 432.58 L248.02 432.20 L248.09 431.78 L248.17 431.36 L248.24 430.95 L248.31 430.54 L248.38 430.14 L248.45 429.74 L248.52 429.33 L248.59 428.94 L248.66 428.54 L248.72 428.14 L248.79 427.75 L248.85 427.36 L248.92 426.97 L248.95 426.77 M249.91 420.81 L249.98 420.41 L250.05 420.01 L250.11 419.61 L250.18 419.20 L250.25 418.81 L250.31 418.42 L250.38 418.04 L250.45 417.65 L250.51 417.25 L250.58 416.86 L250.65 416.47 L250.72 416.07 L250.78 415.67 L250.85 415.28 L250.92 414.88 L250.99 414.48 L251.06 414.08 L251.07 413.98 M252.11 408.00 L252.18 407.61 L252.25 407.22 L252.31 406.83 L252.38 406.44 L252.45 406.06 L252.52 405.68 L252.58 405.29 L252.65 404.89 L252.73 404.48 L252.80 404.07 L252.87 403.66 L252.95 403.25 L253.02 402.85 L253.09 402.44 L253.17 402.03 L253.24 401.63 L253.31 401.22 L253.33 401.12 M254.41 395.21 L254.47 394.83 L254.54 394.45 L254.61 394.07 L254.67 393.70 L254.74 393.32 L254.80 392.95 L254.87 392.58 L254.94 392.19 L255.01 391.77 L255.08 391.36 L255.14 390.95 L255.21 390.55 L255.27 390.16 L255.34 389.78 L255.40 389.40 L255.46 389.02 L255.52 388.64 L255.58 388.27 M256.54 382.30 L256.62 381.86 L256.70 381.40 L256.76 381.05 L256.82 380.69 L256.89 380.33 L256.95 379.96 L257.02 379.58 L257.08 379.20 L257.15 378.81 L257.22 378.42 L257.29 378.02 L257.36 377.62 L257.43 377.22 L257.50 376.81 L257.57 376.40 L257.64 375.98 L257.72 375.57 L257.74 375.46 M258.84 369.48 L258.91 369.09 L258.99 368.71 L259.06 368.33 L259.14 367.95 L259.21 367.59 L259.29 367.23 L259.36 366.87 L259.45 366.47 L259.55 366.02 L259.64 365.58 L259.74 365.14 L259.84 364.70 L259.94 364.27 L260.04 363.84 L260.14 363.42 L260.24 363.00 L260.33 362.59 M261.90 356.70 L262.00 356.36 L262.10 356.03 L262.20 355.70 L262.34 355.24 L262.48 354.79 L262.62 354.35 L262.76 353.91 L262.90 353.49 L263.04 353.08 L263.18 352.67 L263.32 352.28 L263.46 351.89 L263.60 351.52 L263.74 351.15 L263.88 350.79 L264.02 350.44 L264.16 350.10 L264.31 349.76 M268.43 344.05 L268.84 343.81 L269.23 343.68 L269.61 343.63 L269.99 343.66 L270.39 343.76 L270.72 343.88 L271.02 344.01 L271.32 344.16 L271.63 344.35 L271.94 344.59 L272.26 344.87 L272.57 345.21 L272.89 345.62 L273.20 346.10 L273.35 346.36 L273.50 346.64 L273.66 346.93 L273.81 347.24 L273.96 347.57 L274.12 347.92 L274.16 348.00 M276.35 353.94 L276.46 354.30 L276.57 354.66 L276.69 355.03 L276.80 355.41 L276.91 355.79 L277.03 356.17 L277.14 356.56 L277.25 356.95 L277.36 357.34 L277.48 357.74 L277.59 358.14 L277.70 358.54 L277.82 358.95 L277.93 359.35 L278.04 359.76 L278.16 360.16 L278.27 360.57 L278.33 360.78 M279.99 366.70 L280.10 367.09 L280.21 367.49 L280.32 367.88 L280.43 368.27 L280.53 368.67 L280.64 369.06 L280.75 369.46 L280.86 369.85 L280.97 370.24 L281.07 370.64 L281.18 371.03 L281.29 371.42 L281.39 371.81 L281.50 372.20 L281.60 372.59 L281.71 372.97 L281.81 373.35 L281.89 373.64 M283.43 379.55 L283.54 379.95 L283.65 380.34 L283.76 380.75 L283.87 381.16 L283.99 381.57 L284.11 381.98 L284.23 382.39 L284.33 382.75 L284.44 383.11 L284.54 383.47 L284.65 383.84 L284.76 384.21 L284.88 384.59 L284.99 384.96 L285.10 385.34 L285.22 385.72 L285.33 386.11 L285.45 386.49 M287.30 392.37 L287.43 392.76 L287.55 393.15 L287.68 393.53 L287.81 393.91 L287.93 394.30 L288.06 394.68 L288.18 395.05 L288.31 395.43 L288.44 395.80 L288.56 396.17 L288.69 396.54 L288.82 396.91 L288.94 397.27 L289.07 397.64 L289.20 398.00 L289.32 398.37 L289.45 398.73 L289.58 399.10 L289.65 399.28 M291.78 405.26 L291.92 405.69 L292.06 406.07 L292.18 406.42 L292.31 406.77 L292.43 407.13 L292.56 407.49 L292.69 407.86 L292.82 408.23 L292.95 408.61 L293.08 408.99 L293.22 409.38 L293.35 409.77 L293.49 410.16 L293.62 410.55 L293.76 410.95 L293.90 411.34 L294.04 411.74 L294.18 412.14 M296.26 418.04 L296.39 418.41 L296.53 418.77 L296.66 419.13 L296.79 419.49 L296.92 419.84 L297.04 420.18 L297.17 420.52 L297.32 420.93 L297.48 421.35 L297.64 421.78 L297.80 422.20 L297.96 422.61 L298.12 423.02 L298.28 423.43 L298.43 423.83 L298.59 424.23 L298.74 424.62 L298.90 425.01 M301.29 430.87 L301.43 431.20 L301.57 431.52 L301.74 431.92 L301.92 432.34 L302.10 432.75 L302.27 433.15 L302.45 433.53 L302.62 433.91 L302.79 434.28 L302.95 434.64 L303.12 435.00 L303.29 435.35 L303.45 435.69 L303.61 436.04 L303.77 436.38 L303.93 436.73 L304.09 437.07 L304.25 437.42 L304.41 437.77 M306.71 443.68 L306.84 444.05 L306.97 444.43 L307.11 444.80 L307.24 445.19 L307.38 445.57 L307.53 445.96 L307.68 446.35 L307.83 446.75 L307.99 447.16 L308.15 447.56 L308.32 447.98 L308.50 448.40 L308.64 448.73 L308.79 449.07 L308.94 449.40 L309.09 449.75 L309.24 450.09 L309.40 450.44 L309.48 450.62 M312.25 456.52 L312.44 456.89 L312.62 457.27 L312.80 457.64 L312.98 458.01 L313.16 458.38 L313.33 458.75 L313.51 459.12 L313.69 459.48 L313.86 459.84 L314.04 460.20 L314.22 460.55 L314.39 460.91 L314.57 461.27 L314.75 461.63 L314.93 461.98 L315.11 462.34 L315.30 462.70 L315.48 463.05 L315.66 463.41 L315.71 463.50 M318.66 469.37 L318.84 469.74 L319.01 470.11 L319.18 470.48 L319.35 470.84 L319.51 471.19 L319.68 471.55 L319.84 471.91 L320.01 472.27 L320.17 472.62 L320.33 472.98 L320.49 473.34 L320.65 473.70 L320.81 474.06 L320.97 474.42 L321.13 474.79 L321.29 475.15 L321.45 475.51 L321.61 475.88 L321.77 476.24 L321.81 476.33 M324.27 482.18 L324.42 482.53 L324.57 482.89 L324.71 483.25 L324.86 483.61 L325.01 483.98 L325.15 484.34 L325.30 484.71 L325.45 485.08 L325.60 485.45 L325.74 485.82 L325.89 486.20 L326.04 486.57 L326.19 486.95 L326.34 487.32 L326.49 487.70 L326.63 488.08 L326.78 488.46 L326.93 488.84 L327.04 489.12 M329.33 495.01 L329.47 495.39 L329.62 495.76 L329.77 496.14 L329.91 496.52 L330.06 496.90 L330.21 497.27 L330.36 497.65 L330.50 498.03 L330.65 498.41 L330.80 498.79 L330.95 499.18 L331.10 499.56 L331.24 499.94 L331.39 500.32 L331.54 500.70 L331.69 501.08 L331.83 501.46 L331.98 501.84 L332.02 501.93 M334.30 507.87 L334.43 508.22 L334.58 508.60 L334.73 509.00 L334.88 509.39 L335.02 509.78 L335.17 510.17 L335.32 510.56 L335.46 510.95 L335.60 511.33 L335.75 511.71 L335.89 512.09 L336.03 512.47 L336.17 512.85 L336.31 513.23 L336.45 513.60 L336.59 513.97 L336.73 514.35 L336.86 514.72 L336.90 514.81 M339.08 520.68 L339.22 521.06 L339.37 521.45 L339.51 521.84 L339.66 522.23 L339.80 522.62 L339.95 523.02 L340.10 523.41 L340.24 523.81 L340.39 524.21 L340.54 524.60 L340.69 525.00 L340.83 525.40 L340.98 525.79 L341.13 526.18 L341.27 526.57 L341.42 526.96 L341.56 527.35 L341.67 527.64 M343.95 533.55 L344.12 533.97 L344.28 534.39 L344.44 534.79 L344.60 535.19 L344.76 535.58 L344.91 535.97 L345.07 536.34 L345.22 536.71 L345.37 537.07 L345.52 537.42 L345.67 537.77 L345.82 538.11 L345.97 538.44 L346.11 538.77 L346.26 539.09 L346.41 539.40 L346.55 539.70 L346.70 540.00 L346.92 540.43 M350.63 546.37 L350.80 546.70 L350.98 547.03 L351.16 547.38 L351.35 547.73 L351.53 548.08 L351.72 548.44 L351.92 548.81 L352.11 549.18 L352.31 549.55 L352.51 549.93 L352.71 550.31 L352.92 550.69 L353.12 551.07 L353.33 551.46 L353.53 551.84 L353.74 552.22 L353.95 552.60 L354.16 552.98 L354.32 553.26 M357.83 559.18 L358.05 559.53 L358.26 559.87 L358.48 560.21 L358.69 560.56 L358.91 560.90 L359.13 561.24 L359.35 561.58 L359.57 561.92 L359.79 562.26 L360.01 562.59 L360.24 562.93 L360.46 563.26 L360.69 563.59 L360.91 563.92 L361.14 564.25 L361.37 564.58 L361.60 564.90 L361.84 565.23 L362.07 565.56 L362.31 565.89 L362.49 566.14 M367.11 572.02 L367.37 572.32 L367.64 572.62 L367.90 572.91 L368.17 573.21 L368.43 573.50 L368.70 573.79 L368.97 574.07 L369.25 574.37 L369.54 574.66 L369.82 574.95 L370.11 575.24 L370.40 575.52 L370.68 575.80 L370.97 576.08 L371.27 576.36 L371.56 576.63 L371.85 576.90 L372.15 577.17 L372.45 577.44 L372.74 577.70 L373.04 577.97 L373.34 578.23 L373.65 578.49 L373.80 578.62 M379.68 583.29 L380.01 583.53 L380.34 583.77 L380.67 584.01 L381.00 584.25 L381.33 584.48 L381.66 584.72 L381.99 584.95 L382.33 585.18 L382.66 585.41 L382.99 585.63 L383.33 585.86 L383.66 586.08 L384.00 586.30 L384.33 586.51 L384.66 586.73 L384.99 586.94 L385.33 587.14 L385.66 587.35 L385.99 587.55 L386.32 587.75 L386.67 587.96 M392.58 591.02 L392.94 591.19 L393.31 591.36 L393.68 591.53 L394.06 591.70 L394.44 591.87 L394.82 592.04 L395.21 592.22 L395.60 592.40 L395.94 592.56 L396.29 592.71 L396.64 592.87 L396.99 593.03 L397.34 593.18 L397.70 593.34 L398.06 593.50 L398.43 593.66 L398.80 593.82 L399.16 593.98 L399.44 594.10 M405.39 596.54 L405.76 596.68 L406.14 596.83 L406.51 596.97 L406.89 597.11 L407.27 597.25 L407.66 597.39 L408.05 597.52 L408.44 597.66 L408.83 597.80 L409.22 597.93 L409.62 598.06 L410.01 598.20 L410.40 598.33 L410.80 598.45 L411.19 598.58 L411.58 598.71 L411.97 598.83 L412.27 598.93 M418.23 600.80 L418.64 600.93 L419.05 601.06 L419.45 601.19 L419.85 601.32 L420.25 601.44 L420.64 601.56 L421.03 601.69 L421.42 601.81 L421.80 601.93 L422.18 602.04 L422.55 602.16 L422.93 602.28 L423.30 602.39 L423.67 602.50 L424.04 602.62 L424.41 602.73 L424.78 602.84 L425.14 602.95 M431.05 604.61 L431.42 604.71 L431.80 604.81 L432.19 604.91 L432.60 605.01 L433.03 605.12 L433.49 605.23 L433.96 605.35 L434.47 605.47 L435.00 605.60 L435.31 605.67 L435.63 605.75 L435.95 605.83 L436.29 605.91 L436.63 605.99 L436.98 606.07 L437.34 606.16 L437.70 606.25 L437.98 606.31 M443.91 607.69 L444.33 607.79 L444.75 607.88 L445.17 607.98 L445.59 608.07 L446.01 608.16 L446.43 608.25 L446.85 608.34 L447.27 608.43 L447.68 608.52 L448.09 608.61 L448.50 608.69 L448.91 608.78 L449.31 608.86 L449.70 608.94 L450.10 609.02 L450.49 609.10 L450.79 609.16 M456.71 610.26 L457.11 610.33 L457.50 610.40 L457.89 610.47 L458.29 610.54 L458.68 610.60 L459.08 610.67 L459.47 610.74 L459.87 610.80 L460.26 610.87 L460.66 610.93 L461.05 610.99 L461.45 611.06 L461.84 611.12 L462.24 611.18 L462.63 611.24 L463.03 611.30 L463.42 611.36 L463.62 611.39 M469.55 612.21 L469.95 612.26 L470.36 612.31 L470.77 612.36 L471.18 612.41 L471.58 612.46 L471.99 612.50 L472.40 612.55 L472.80 612.60 L473.21 612.65 L473.61 612.69 L474.01 612.74 L474.41 612.78 L474.81 612.83 L475.21 612.87 L475.61 612.91 L476.00 612.96 L476.39 613.00 M482.38 613.66 L482.85 613.71 L483.32 613.76 L483.79 613.81 L484.26 613.86 L484.73 613.91 L485.19 613.95 L485.66 614.00 L486.12 614.05 L486.57 614.09 L487.02 614.14 L487.46 614.18 L487.89 614.23 L488.31 614.27 L488.73 614.31 L489.13 614.35 L489.23 614.36" stroke="#ff0000"/>
</g>
<g transform="translate(98.03 654.10) scale(0.93 1)" font-size="19.6" stroke="#000" stroke-width="0.45"><text x="0.000" y="0">0</text></g>
<g transform="translate(163.63 654.10) scale(0.93 1)" font-size="19.6" stroke="#000" stroke-width="0.45"><text x="0.000" y="0">5</text></g>
<g transform="translate(224.16 654.10) scale(0.93 1)" font-size="19.6" stroke="#000" stroke-width="0.45"><path transform="translate(0.000 0) scale(0.009570 -0.009570)" d="M806 0H525V1014Q371 876 162 810V1054Q272 1088 401 1184Q530 1281 578 1409H806Z" stroke-width="47.0"/><text x="10.901" y="0">0</text></g>
<g transform="translate(289.76 654.10) scale(0.93 1)" font-size="19.6" stroke="#000" stroke-width="0.45"><path transform="translate(0.000 0) scale(0.009570 -0.009570)" d="M806 0H525V1014Q371 876 162 810V1054Q272 1088 401 1184Q530 1281 578 1409H806Z" stroke-width="47.0"/><text x="10.901" y="0">5</text></g>
<g transform="translate(355.36 654.10) scale(0.93 1)" font-size="19.6" stroke="#000" stroke-width="0.45"><text x="0.000" y="0">20</text></g>
<g transform="translate(420.96 654.10) scale(0.93 1)" font-size="19.6" stroke="#000" stroke-width="0.45"><text x="0.000" y="0">25</text></g>
<g transform="translate(486.56 654.10) scale(0.93 1)" font-size="19.6" stroke="#000" stroke-width="0.45"><text x="0.000" y="0">30</text></g>
<g transform="translate(85.06 635.60) scale(0.93 1)" font-size="19.6" stroke="#000" stroke-width="0.45"><text x="0.000" y="0">0</text></g>
<g transform="translate(85.06 571.20) scale(0.93 1)" font-size="19.6" stroke="#000" stroke-width="0.45"><text x="0.000" y="0">5</text></g>
<g transform="translate(74.92 506.80) scale(0.93 1)" font-size="19.6" stroke="#000" stroke-width="0.45"><path transform="translate(0.000 0) scale(0.009570 -0.009570)" d="M806 0H525V1014Q371 876 162 810V1054Q272 1088 401 1184Q530 1281 578 1409H806Z" stroke-width="47.0"/><text x="10.901" y="0">0</text></g>
<g transform="translate(74.92 442.40) scale(0.93 1)" font-size="19.6" stroke="#000" stroke-width="0.45"><path transform="translate(0.000 0) scale(0.009570 -0.009570)" d="M806 0H525V1014Q371 876 162 810V1054Q272 1088 401 1184Q530 1281 578 1409H806Z" stroke-width="47.0"/><text x="10.901" y="0">5</text></g>
<g transform="translate(74.92 378.00) scale(0.93 1)" font-size="19.6" stroke="#000" stroke-width="0.45"><text x="0.000" y="0">20</text></g>
<g transform="translate(74.92 313.60) scale(0.93 1)" font-size="19.6" stroke="#000" stroke-width="0.45"><text x="0.000" y="0">25</text></g>
<text x="296.3" y="676.0" font-size="20.1" text-anchor="middle" stroke="#000" stroke-width="0.5">U[MeV]</text>
<g transform="translate(69.0 482.5) rotate(-90) scale(1.0215 1)" font-size="19.2" stroke="#000" stroke-width="0.4"><text x="-139.20" y="0">E</text><path transform="translate(-126.394 0) scale(0.009375 -0.009375)" d="M806 0H525V1014Q371 876 162 810V1054Q272 1088 401 1184Q530 1281 578 1409H806Z" stroke-width="42.7"/><text x="139.20" y="0" text-anchor="end">strength function [mb/MeV]</text></g>
<path d="M382.0 331.10 H431.3" stroke="#000000" stroke-width="1.85" fill="none"/>
<g transform="translate(436.90 327.50) scale(0.94 1)" font-size="12.3" stroke="#000" stroke-width="0.35"><path transform="translate(0.000 0) scale(0.006006 -0.006006)" d="M806 0H525V1014Q371 876 162 810V1054Q272 1088 401 1184Q530 1281 578 1409H806Z" stroke-width="58.3"/><text x="6.841" y="0">00</text></g>
<text transform="translate(457.5 338.20) scale(0.955 1)" font-size="20.5" stroke="#000" stroke-width="0.6">Sn</text>
<path d="M382.0 361.60 H430" stroke="#008000" stroke-width="1.85" fill="none" stroke-dasharray="2.2 5.47"/>
<g transform="translate(436.90 358.00) scale(0.94 1)" font-size="12.3" stroke="#000" stroke-width="0.35"><path transform="translate(0.000 0) scale(0.006006 -0.006006)" d="M806 0H525V1014Q371 876 162 810V1054Q272 1088 401 1184Q530 1281 578 1409H806Z" stroke-width="58.3"/><path transform="translate(6.841 0) scale(0.006006 -0.006006)" d="M806 0H525V1014Q371 876 162 810V1054Q272 1088 401 1184Q530 1281 578 1409H806Z" stroke-width="58.3"/><text x="13.681" y="0">2</text></g>
<text transform="translate(457.5 368.70) scale(0.955 1)" font-size="20.5" stroke="#000" stroke-width="0.6">Sn</text>
<path d="M382.0 391.90 H430" stroke="#0000ff" stroke-width="1.85" fill="none" stroke-dasharray="8 3.1 2.2 3.2"/>
<g transform="translate(436.90 388.30) scale(0.94 1)" font-size="12.3" stroke="#000" stroke-width="0.35"><path transform="translate(0.000 0) scale(0.006006 -0.006006)" d="M806 0H525V1014Q371 876 162 810V1054Q272 1088 401 1184Q530 1281 578 1409H806Z" stroke-width="58.3"/><text x="6.841" y="0">20</text></g>
<text transform="translate(457.5 399.00) scale(0.955 1)" font-size="20.5" stroke="#000" stroke-width="0.6">Sn</text>
<path d="M382.0 422.30 H430" stroke="#8000ff" stroke-width="1.85" fill="none" stroke-dasharray="6.4 2.8 2.2 2.8 2.2 3.2"/>
<g transform="translate(436.90 418.70) scale(0.94 1)" font-size="12.3" stroke="#000" stroke-width="0.35"><path transform="translate(0.000 0) scale(0.006006 -0.006006)" d="M806 0H525V1014Q371 876 162 810V1054Q272 1088 401 1184Q530 1281 578 1409H806Z" stroke-width="58.3"/><text x="6.841" y="0">32</text></g>
<text transform="translate(457.5 429.40) scale(0.955 1)" font-size="20.5" stroke="#000" stroke-width="0.6">Sn</text>
<path d="M382.0 452.40 H430" stroke="#ff8000" stroke-width="1.85" fill="none" stroke-dasharray="3.8 2.22"/>
<g transform="translate(436.90 448.80) scale(0.94 1)" font-size="12.3" stroke="#000" stroke-width="0.35"><path transform="translate(0.000 0) scale(0.006006 -0.006006)" d="M806 0H525V1014Q371 876 162 810V1054Q272 1088 401 1184Q530 1281 578 1409H806Z" stroke-width="58.3"/><text x="6.841" y="0">50</text></g>
<text transform="translate(457.5 459.50) scale(0.955 1)" font-size="20.5" stroke="#000" stroke-width="0.6">Sn</text>
<path d="M382.0 483.10 H430" stroke="#ff0000" stroke-width="1.85" fill="none" stroke-dasharray="6.9 6.03"/>
<g transform="translate(436.90 479.50) scale(0.94 1)" font-size="12.3" stroke="#000" stroke-width="0.35"><path transform="translate(0.000 0) scale(0.006006 -0.006006)" d="M806 0H525V1014Q371 876 162 810V1054Q272 1088 401 1184Q530 1281 578 1409H806Z" stroke-width="58.3"/><text x="6.841" y="0">68</text></g>
<text transform="translate(457.5 490.20) scale(0.955 1)" font-size="20.5" stroke="#000" stroke-width="0.6">Sn</text>
</svg></body></html>
